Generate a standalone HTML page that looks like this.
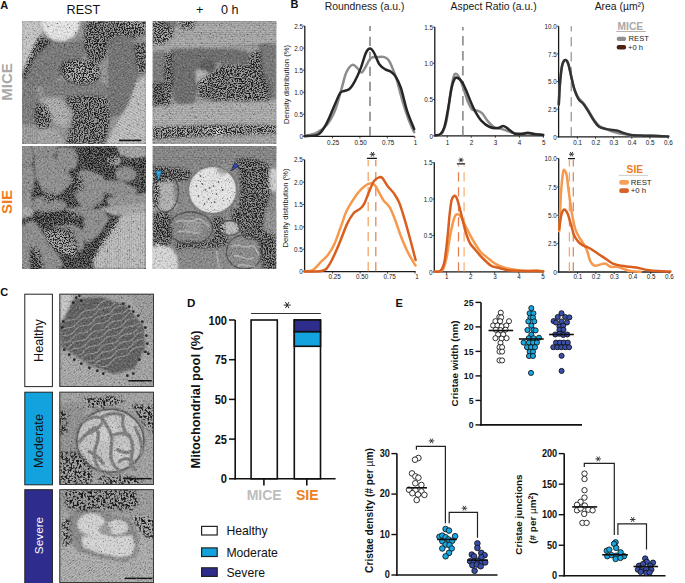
<!DOCTYPE html>
<html><head><meta charset="utf-8"><style>
html,body{margin:0;padding:0;background:#fff;}
svg{display:block;}
text{font-family:"Liberation Sans",sans-serif;}
</style></head><body>
<svg width="685" height="583" viewBox="0 0 685 583">
<text x="0.30" y="8.80" font-size="11.00" font-weight="bold" fill="#111">A</text>
<text x="290.50" y="7.70" font-size="11.00" font-weight="bold" fill="#111">B</text>
<text x="0.30" y="296.00" font-size="11.00" font-weight="bold" fill="#111">C</text>
<text x="187.00" y="307.20" font-size="11.60" font-weight="bold" fill="#111">D</text>
<text x="395.40" y="307.20" font-size="11.00" font-weight="bold" fill="#111">E</text>
<text x="83.40" y="14.00" font-size="12.60" text-anchor="middle" fill="#111">REST</text>
<text x="195.90" y="14.00" font-size="12.60" fill="#111">+</text>
<text x="221.00" y="14.00" font-size="12.60" fill="#111">0 h</text>
<text x="12.00" y="82.00" font-size="15.00" text-anchor="middle" font-weight="bold" fill="#a9a9a9" transform="rotate(-90 12.00 82.00)">MICE</text>
<text x="12.00" y="202.00" font-size="15.00" text-anchor="middle" font-weight="bold" fill="#f07d22" transform="rotate(-90 12.00 202.00)">SIE</text>

<defs>
<filter id="soft" x="-5%" y="-5%" width="110%" height="110%"><feGaussianBlur stdDeviation="1.3"/></filter>
<filter id="soft2" x="-10%" y="-10%" width="120%" height="120%"><feGaussianBlur stdDeviation="2.2"/></filter>
<filter id="grain" x="0" y="0" width="100%" height="100%" color-interpolation-filters="sRGB">
 <feTurbulence type="fractalNoise" baseFrequency="0.55" numOctaves="2" seed="7" result="n"/>
 <feColorMatrix in="n" type="matrix" values="0 0 0 0 1  0 0 0 0 1  0 0 0 0 1  2.2 0 0 0 -1.1" result="w"/>
 <feColorMatrix in="n" type="matrix" values="0 0 0 0 0  0 0 0 0 0  0 0 0 0 0  -2.2 0 0 0 1.1" result="b"/>
 <feMerge><feMergeNode in="w"/><feMergeNode in="b"/></feMerge>
</filter>
<pattern id="strA" width="2.2" height="2.2" patternUnits="userSpaceOnUse" patternTransform="rotate(-35)"><rect width="2.2" height="0.9" fill="#000" opacity="0.14"/></pattern>
<pattern id="strB" width="2.2" height="2.2" patternUnits="userSpaceOnUse" patternTransform="rotate(0)"><rect width="2.2" height="0.9" fill="#000" opacity="0.13"/></pattern>
<pattern id="strC" width="2.2" height="2.2" patternUnits="userSpaceOnUse" patternTransform="rotate(90)"><rect width="2.2" height="0.9" fill="#000" opacity="0.13"/></pattern>
<pattern id="strD" width="2.4" height="2.4" patternUnits="userSpaceOnUse" patternTransform="rotate(30)"><rect width="2.4" height="0.9" fill="#000" opacity="0.14"/></pattern>
<filter id="spkA" x="-10%" y="-10%" width="120%" height="120%" color-interpolation-filters="sRGB"><feGaussianBlur in="SourceAlpha" stdDeviation="1.6" result="m"/><feTurbulence type="fractalNoise" baseFrequency="0.8" numOctaves="2" seed="3" result="n"/><feColorMatrix in="n" type="matrix" values="0 0 0 0 0.1  0 0 0 0 0.1  0 0 0 0 0.1  -6 0 0 0 3.4" result="d"/><feColorMatrix in="n" type="matrix" values="0 0 0 0 0.72  0 0 0 0 0.72  0 0 0 0 0.72  1.2000000000000002 0 0 0 -0.6960000000000001" result="l"/><feMerge result="dl"><feMergeNode in="l"/><feMergeNode in="d"/></feMerge><feGaussianBlur in="dl" stdDeviation="0.45" result="d2"/><feComposite in="d2" in2="m" operator="in"/></filter>
<filter id="spkB" x="-10%" y="-10%" width="120%" height="120%" color-interpolation-filters="sRGB"><feGaussianBlur in="SourceAlpha" stdDeviation="1.6" result="m"/><feTurbulence type="fractalNoise" baseFrequency="0.8" numOctaves="2" seed="11" result="n"/><feColorMatrix in="n" type="matrix" values="0 0 0 0 0.1  0 0 0 0 0.1  0 0 0 0 0.1  -6 0 0 0 3.4" result="d"/><feColorMatrix in="n" type="matrix" values="0 0 0 0 0.72  0 0 0 0 0.72  0 0 0 0 0.72  1.2000000000000002 0 0 0 -0.6960000000000001" result="l"/><feMerge result="dl"><feMergeNode in="l"/><feMergeNode in="d"/></feMerge><feGaussianBlur in="dl" stdDeviation="0.45" result="d2"/><feComposite in="d2" in2="m" operator="in"/></filter>
<filter id="spkC" x="-10%" y="-10%" width="120%" height="120%" color-interpolation-filters="sRGB"><feGaussianBlur in="SourceAlpha" stdDeviation="1.6" result="m"/><feTurbulence type="fractalNoise" baseFrequency="0.8" numOctaves="2" seed="21" result="n"/><feColorMatrix in="n" type="matrix" values="0 0 0 0 0.1  0 0 0 0 0.1  0 0 0 0 0.1  -6 0 0 0 3.3" result="d"/><feColorMatrix in="n" type="matrix" values="0 0 0 0 0.72  0 0 0 0 0.72  0 0 0 0 0.72  1.2000000000000002 0 0 0 -0.6960000000000001" result="l"/><feMerge result="dl"><feMergeNode in="l"/><feMergeNode in="d"/></feMerge><feGaussianBlur in="dl" stdDeviation="0.45" result="d2"/><feComposite in="d2" in2="m" operator="in"/></filter>
<filter id="spkD" x="-10%" y="-10%" width="120%" height="120%" color-interpolation-filters="sRGB"><feGaussianBlur in="SourceAlpha" stdDeviation="1.6" result="m"/><feTurbulence type="fractalNoise" baseFrequency="0.8" numOctaves="2" seed="31" result="n"/><feColorMatrix in="n" type="matrix" values="0 0 0 0 0.1  0 0 0 0 0.1  0 0 0 0 0.1  -6 0 0 0 3.4" result="d"/><feColorMatrix in="n" type="matrix" values="0 0 0 0 0.72  0 0 0 0 0.72  0 0 0 0 0.72  1.2000000000000002 0 0 0 -0.6960000000000001" result="l"/><feMerge result="dl"><feMergeNode in="l"/><feMergeNode in="d"/></feMerge><feGaussianBlur in="dl" stdDeviation="0.45" result="d2"/><feComposite in="d2" in2="m" operator="in"/></filter>
<filter id="spkL" x="-10%" y="-10%" width="120%" height="120%" color-interpolation-filters="sRGB"><feGaussianBlur in="SourceAlpha" stdDeviation="1.6" result="m"/><feTurbulence type="fractalNoise" baseFrequency="0.45" numOctaves="2" seed="41" result="n"/><feColorMatrix in="n" type="matrix" values="0 0 0 0 0.1  0 0 0 0 0.1  0 0 0 0 0.1  -6 0 0 0 3.25" result="d"/><feColorMatrix in="n" type="matrix" values="0 0 0 0 0.72  0 0 0 0 0.72  0 0 0 0 0.72  0.6000000000000001 0 0 0 -0.34800000000000003" result="l"/><feMerge result="dl"><feMergeNode in="l"/><feMergeNode in="d"/></feMerge><feGaussianBlur in="dl" stdDeviation="0.45" result="d2"/><feComposite in="d2" in2="m" operator="in"/></filter>
<filter id="spkS" x="-10%" y="-10%" width="120%" height="120%" color-interpolation-filters="sRGB"><feGaussianBlur in="SourceAlpha" stdDeviation="1.6" result="m"/><feTurbulence type="fractalNoise" baseFrequency="0.9" numOctaves="2" seed="57" result="n"/><feColorMatrix in="n" type="matrix" values="0 0 0 0 0.1  0 0 0 0 0.1  0 0 0 0 0.1  -7 0 0 0 2.2" result="d"/><feColorMatrix in="n" type="matrix" values="0 0 0 0 0.72  0 0 0 0 0.72  0 0 0 0 0.72  0.0 0 0 0 -0.0" result="l"/><feMerge result="dl"><feMergeNode in="l"/><feMergeNode in="d"/></feMerge><feGaussianBlur in="dl" stdDeviation="0.45" result="d2"/><feComposite in="d2" in2="m" operator="in"/></filter>
</defs>
<svg x="22.0" y="21.0" width="124.0" height="123.0" viewBox="0 0 124.0 123.0" overflow="hidden">
<rect width="124.0" height="123.0" fill="#949494"/>
<g filter="url(#soft)">
<path d="M0.0,0.0 L22.0,0.0 L19.0,14.0 L12.0,30.0 L4.0,46.0 L0.0,50.0 Z" fill="#c4c4c4"/>
<path d="M16.0,18.0 L40.0,21.0 L62.0,19.0 L64.0,30.0 L58.0,38.0 L50.0,44.0 L40.0,52.0 L34.0,60.0 L26.0,64.0 L12.0,66.0 L6.0,58.0 L4.0,48.0 L10.0,34.0 Z" fill="#7a7a7a"/>
<path d="M0.0,50.0 L6.0,56.0 L12.0,66.0 L18.0,76.0 L17.0,123.0 L0.0,123.0 Z" fill="#848484"/>
<path d="M20.0,62.0 L40.0,60.0 L60.0,62.0 L80.0,62.0 L90.0,66.0 L88.0,76.0 L60.0,74.0 L40.0,76.0 L22.0,76.0 Z" fill="#7e7e7e"/>
<path d="M42.0,44.0 L56.0,40.0 L70.0,44.0 L76.0,52.0 L72.0,60.0 L58.0,62.0 L46.0,58.0 Z" fill="#b4b4b4"/>
<path d="M20.0,78.0 L34.0,76.0 L48.0,88.0 L50.0,104.0 L40.0,106.0 L28.0,98.0 L20.0,88.0 Z" fill="#b6b6b6"/>
<path d="M0.0,104.0 L18.0,104.0 L36.0,110.0 L44.0,123.0 L0.0,123.0 Z" fill="#a4a4a4"/>
<path d="M88.0,18.0 L100.0,14.0 L112.0,20.0 L116.0,40.0 L114.0,62.0 L108.0,80.0 L100.0,94.0 L88.0,96.0 L86.0,70.0 L86.0,40.0 Z" fill="#7c7c7c"/>
<path d="M114.0,62.0 L124.0,54.0 L124.0,123.0 L84.0,123.0 L96.0,100.0 L106.0,84.0 Z" fill="#c6c6c6"/>
<ellipse cx="38.7" cy="3.0" rx="18.7" ry="17.0" fill="#e4e4e4"/>
<path d="M100.0,0.0 L124.0,0.0 L124.0,8.0 L104.0,8.0 Z" fill="#b0b0b0"/>
</g>
<g>
<path d="M0.0,52.0 L16.0,66.0 L16.0,123.0 L0.0,123.0 Z" fill="url(#strC)"/>
<path d="M20.0,78.0 L34.0,76.0 L48.0,88.0 L50.0,104.0 L40.0,106.0 L28.0,98.0 L20.0,88.0 Z" fill="url(#strA)"/>
<path d="M114.0,62.0 L124.0,54.0 L124.0,123.0 L84.0,123.0 L96.0,100.0 L106.0,84.0 Z" fill="url(#strD)"/>
<path d="M88.0,18.0 L100.0,14.0 L112.0,20.0 L116.0,40.0 L114.0,62.0 L108.0,80.0 L100.0,94.0 L88.0,96.0 L86.0,70.0 L86.0,40.0 Z" fill="url(#strA)"/>
</g>
<g filter="url(#spkA)">
<path d="M17.0,15.0 L30.0,20.0 L24.0,26.0 L14.0,34.0 L8.0,48.0 L4.0,58.0 L0.0,56.0 L4.0,44.0 L10.0,28.0 Z" fill="#000"/>
<path d="M64.0,0.0 L124.0,0.0 L124.0,12.0 L112.0,18.0 L100.0,14.0 L88.0,18.0 L84.0,34.0 L80.0,42.0 L70.0,42.0 L62.0,30.0 L62.0,14.0 Z" fill="#000"/>
<path d="M112.0,22.0 L124.0,22.0 L124.0,50.0 L116.0,54.0 Z" fill="#000"/>
<path d="M38.0,44.0 L44.0,40.0 L56.0,38.0 L72.0,40.0 L78.0,48.0 L78.0,58.0 L72.0,62.0 L58.0,64.0 L44.0,60.0 L38.0,52.0 Z" fill="#000"/>
<path d="M42.0,76.0 L60.0,74.0 L86.0,76.0 L88.0,96.0 L86.0,110.0 L82.0,123.0 L44.0,123.0 L48.0,106.0 L52.0,92.0 Z" fill="#000"/>
<path d="M14.0,82.0 L24.0,84.0 L30.0,96.0 L28.0,106.0 L16.0,108.0 L12.0,96.0 Z" fill="#000"/>
</g>
<rect width="124.0" height="123.0" fill="#000" filter="url(#spkS)" opacity="0.55"/>
<rect x="97" y="118.6" width="22.4" height="1.6" fill="#111"/>
<rect width="124.0" height="123.0" filter="url(#grain)" opacity="0.30"/>
</svg>
<svg x="152.5" y="21.0" width="124.0" height="123.0" viewBox="0 0 124.0 123.0" overflow="hidden">
<rect width="124.0" height="123.0" fill="#9a9a9a"/>
<g filter="url(#soft)">
<path d="M0.0,0.0 L124.0,0.0 L124.0,25.0 L100.0,24.0 L60.0,27.0 L20.0,28.0 L0.0,30.0 Z" fill="#afafaf"/>
<path d="M9.0,0.0 L24.0,0.0 L24.0,6.0 L10.0,6.0 Z" fill="#7c7c7c"/>
<path d="M0.0,30.0 L12.0,30.0 L14.0,50.0 L14.0,63.0 L10.0,90.0 L0.0,92.0 Z" fill="#7c7c7c"/>
<path d="M19.0,28.0 L50.0,27.0 L80.0,28.0 L94.0,30.0 L97.0,36.0 L94.0,43.0 L70.0,43.0 L50.0,40.0 L44.0,52.0 L44.0,70.0 L42.0,84.0 L28.0,86.0 L22.0,80.0 L18.0,60.0 L18.0,40.0 Z" fill="#6e6e6e"/>
<ellipse cx="55.0" cy="45.0" rx="8.5" ry="6.5" fill="#5e5e5e"/>
<path d="M43.0,49.0 L54.0,50.0 L54.0,63.0 L44.0,63.0 Z" fill="#b4b4b4"/>
<path d="M106.0,23.0 L116.0,22.0 L124.0,24.0 L124.0,78.0 L116.0,76.0 L108.0,56.0 L106.0,40.0 Z" fill="#787878"/>
<path d="M0.0,84.0 L124.0,80.0 L124.0,106.0 L0.0,106.0 Z" fill="#b4b4b4"/>
<path d="M0.0,106.0 L124.0,106.0 L124.0,123.0 L0.0,123.0 Z" fill="#acacac"/>
<ellipse cx="65.5" cy="111.5" rx="5.0" ry="4.5" fill="#dadada"/>
<ellipse cx="58.0" cy="110.0" rx="4.0" ry="4.0" fill="#c8c8c8"/>
</g>
<g>
<path d="M0.0,0.0 L124.0,0.0 L124.0,25.0 L0.0,30.0 Z" fill="url(#strB)"/>
<path d="M0.0,84.0 L124.0,80.0 L124.0,106.0 L0.0,106.0 Z" fill="url(#strB)"/>
<path d="M0.0,114.0 L124.0,114.0 L124.0,123.0 L0.0,123.0 Z" fill="url(#strB)"/>
</g>
<g filter="url(#spkB)">
<path d="M0.0,0.0 L10.0,0.0 L22.0,8.0 L20.0,16.0 L12.0,22.0 L0.0,24.0 Z" fill="#000"/>
<path d="M26.0,0.0 L44.0,0.0 L40.0,8.0 L28.0,8.0 Z" fill="#000"/>
<path d="M12.0,32.0 L20.0,32.0 L20.0,60.0 L18.0,84.0 L12.0,86.0 L12.0,60.0 Z" fill="#000"/>
<path d="M0.0,62.0 L12.0,62.0 L14.0,82.0 L0.0,86.0 Z" fill="#000"/>
<path d="M44.0,62.0 L70.0,44.0 L94.0,44.0 L98.0,32.0 L108.0,30.0 L110.0,50.0 L116.0,62.0 L118.0,80.0 L100.0,80.0 L80.0,80.0 L62.0,80.0 L46.0,76.0 Z" fill="#000"/>
<path d="M0.0,106.0 L56.0,104.0 L124.0,104.0 L124.0,113.0 L80.0,114.0 L40.0,116.0 L0.0,118.0 Z" fill="#000"/>
</g>
<rect width="124.0" height="123.0" fill="#000" filter="url(#spkS)" opacity="0.55"/>

<rect width="124.0" height="123.0" filter="url(#grain)" opacity="0.30"/>
</svg>
<svg x="22.0" y="146.0" width="124.0" height="123.0" viewBox="0 0 124.0 123.0" overflow="hidden">
<rect width="124.0" height="123.0" fill="#626262"/>
<g filter="url(#spkC)">
<path d="M0.0,0.0 L124.0,0.0 L124.0,123.0 L0.0,123.0 Z" fill="#000"/>
</g>
<g filter="url(#soft)">
<path d="M0.0,0.0 L8.0,0.0 L10.0,10.0 L9.0,18.0 L0.0,19.0 Z" fill="#8e8e8e" stroke="#8e8e8e" stroke-width="2.4" stroke-linejoin="round"/>
<path d="M0.0,22.0 L10.0,21.0 L12.0,32.0 L10.0,44.0 L0.0,46.0 Z" fill="#8e8e8e" stroke="#8e8e8e" stroke-width="2.4" stroke-linejoin="round"/>
<path d="M0.0,49.0 L8.0,47.0 L9.0,58.0 L6.0,70.0 L0.0,72.0 Z" fill="#949494" stroke="#949494" stroke-width="2.4" stroke-linejoin="round"/>
<path d="M11.0,0.0 L34.0,0.0 L32.0,8.0 L13.0,10.0 Z" fill="#8e8e8e" stroke="#8e8e8e" stroke-width="2.4" stroke-linejoin="round"/>
<path d="M36.0,2.0 L51.0,3.0 L55.0,12.0 L53.0,21.0 L46.0,24.0 L36.0,15.0 Z" fill="#8e8e8e" stroke="#8e8e8e" stroke-width="2.4" stroke-linejoin="round"/>
<path d="M13.0,13.0 L31.0,11.0 L35.0,17.0 L48.0,30.0 L50.0,35.0 L44.0,41.0 L36.0,48.0 L28.0,50.0 L22.0,45.0 L15.0,31.0 Z" fill="#909090" stroke="#909090" stroke-width="2.4" stroke-linejoin="round"/>
<path d="M12.0,54.0 L22.0,51.0 L34.0,54.0 L44.0,58.0 L40.0,64.0 L20.0,66.0 L12.0,62.0 Z" fill="#8e8e8e" stroke="#8e8e8e" stroke-width="2.4" stroke-linejoin="round"/>
<ellipse cx="92.0" cy="15.0" rx="7.0" ry="5.0" fill="#a2a2a2"/>
<ellipse cx="104.0" cy="28.0" rx="11.0" ry="7.5" fill="#8e8e8e"/>
<path d="M94.0,0.0 L124.0,0.0 L124.0,11.0 L110.0,13.0 L98.0,9.0 Z" fill="#a4a4a4"/>
<path d="M58.0,26.0 L68.0,25.0 L80.0,31.0 L83.0,42.0 L79.0,55.0 L70.0,61.0 L60.0,60.0 L54.0,50.0 L56.0,36.0 Z" fill="#8e8e8e" stroke="#8e8e8e" stroke-width="2.4" stroke-linejoin="round"/>
<path d="M82.0,35.0 L98.0,36.0 L114.0,43.0 L112.0,50.0 L96.0,50.0 L84.0,46.0 Z" fill="#8e8e8e" stroke="#8e8e8e" stroke-width="2.4" stroke-linejoin="round"/>
<path d="M86.0,53.0 L108.0,51.0 L124.0,48.0 L124.0,61.0 L90.0,63.0 Z" fill="#949494" stroke="#949494" stroke-width="2.4" stroke-linejoin="round"/>
<ellipse cx="6.0" cy="66.0" rx="7.0" ry="5.0" fill="#a8a8a8"/>
<path d="M4.0,78.0 L12.0,76.0 L22.0,90.0 L34.0,106.0 L40.0,118.0 L34.0,123.0 L20.0,123.0 L12.0,104.0 L6.0,90.0 Z" fill="#8e8e8e" stroke="#8e8e8e" stroke-width="2.4" stroke-linejoin="round"/>
<path d="M32.0,81.0 L50.0,79.0 L61.0,86.0 L61.0,102.0 L52.0,106.0 L40.0,96.0 Z" fill="#8e8e8e" stroke="#8e8e8e" stroke-width="2.4" stroke-linejoin="round"/>
<path d="M0.0,80.0 L4.0,82.0 L8.0,100.0 L8.0,123.0 L0.0,123.0 Z" fill="#8e8e8e" stroke="#8e8e8e" stroke-width="2.4" stroke-linejoin="round"/>
<path d="M44.0,63.0 L62.0,62.0 L62.0,69.0 L48.0,70.0 Z" fill="#8e8e8e" stroke="#8e8e8e" stroke-width="2.4" stroke-linejoin="round"/>
<path d="M64.0,63.0 L80.0,65.0 L86.0,72.0 L78.0,86.0 L66.0,96.0 L62.0,90.0 Z" fill="#8e8e8e" stroke="#8e8e8e" stroke-width="2.4" stroke-linejoin="round"/>
<path d="M76.0,62.0 L124.0,57.0 L124.0,66.0 L92.0,70.0 Z" fill="#a6a6a6"/>
<path d="M72.0,123.0 L70.0,112.0 L80.0,96.0 L92.0,78.0 L100.0,69.0 L124.0,65.0 L124.0,123.0 Z" fill="#c2c2c2"/>
<path d="M22.0,84.0 L40.0,86.0 L54.0,100.0 L54.0,110.0 L40.0,108.0 L26.0,96.0 Z" fill="#b0b0b0"/>
</g>
<g>
<path d="M72.0,123.0 L70.0,112.0 L80.0,96.0 L92.0,78.0 L100.0,69.0 L124.0,65.0 L124.0,123.0 Z" fill="url(#strC)"/>
</g>
<g filter="url(#spkC)">
<path d="M62.0,2.0 L92.0,2.0 L96.0,10.0 L90.0,24.0 L80.0,28.0 L66.0,24.0 L60.0,12.0 Z" fill="#000"/>
<path d="M106.0,13.0 L124.0,12.0 L124.0,24.0 L110.0,24.0 Z" fill="#000"/>
<path d="M49.0,30.0 L60.0,30.0 L62.0,44.0 L52.0,46.0 Z" fill="#000"/>
<path d="M22.0,46.0 L34.0,48.0 L32.0,56.0 L22.0,56.0 Z" fill="#000"/>
<path d="M10.0,66.0 L30.0,66.0 L48.0,64.0 L60.0,70.0 L50.0,78.0 L30.0,80.0 L12.0,76.0 Z" fill="#000"/>
<path d="M20.0,82.0 L50.0,82.0 L56.0,100.0 L56.0,112.0 L40.0,112.0 L26.0,98.0 Z" fill="#000"/>
<path d="M62.0,112.0 L70.0,100.0 L82.0,88.0 L94.0,72.0 L98.0,74.0 L86.0,92.0 L76.0,106.0 L70.0,118.0 Z" fill="#000"/>
<path d="M8.0,100.0 L18.0,104.0 L22.0,123.0 L8.0,123.0 Z" fill="#000"/>
</g>
<rect width="124.0" height="123.0" fill="#000" filter="url(#spkS)" opacity="0.55"/>

<rect width="124.0" height="123.0" filter="url(#grain)" opacity="0.30"/>
</svg>
<svg x="152.5" y="146.0" width="124.0" height="123.0" viewBox="0 0 124.0 123.0" overflow="hidden">
<rect width="124.0" height="123.0" fill="#8a8a8a"/>
<g filter="url(#soft)">
<path d="M0.0,0.0 L124.0,0.0 L124.0,20.0 L0.0,22.0 Z" fill="#8e8e8e"/>
<path d="M0.0,36.0 L20.0,34.0 L26.0,44.0 L24.0,62.0 L14.0,66.0 L0.0,64.0 Z" fill="#b0b0b0"/>
<path d="M20.0,28.0 L34.0,28.0 L40.0,40.0 L38.0,62.0 L30.0,64.0 L22.0,56.0 Z" fill="#8a8a8a"/>
<path d="M18.0,66.0 L40.0,64.0 L56.0,68.0 L62.0,78.0 L58.0,92.0 L44.0,98.0 L26.0,98.0 L18.0,88.0 Z" fill="#878787"/>
<ellipse cx="40.0" cy="80.0" rx="10.0" ry="7.0" fill="#989898"/>
<ellipse cx="77.0" cy="82.0" rx="10.0" ry="7.0" fill="#bcbcbc"/>
<path d="M74.0,90.0 L96.0,85.0 L108.0,96.0 L110.0,118.0 L96.0,123.0 L76.0,123.0 L72.0,104.0 Z" fill="#8c8c8c"/>
<path d="M28.0,100.0 L50.0,98.0 L66.0,104.0 L70.0,123.0 L26.0,123.0 Z" fill="#8a8a8a"/>
<path d="M60.0,98.0 L74.0,98.0 L76.0,123.0 L60.0,123.0 Z" fill="#8a8a8a"/>
<ellipse cx="60.0" cy="44.0" rx="27.0" ry="26.0" fill="#8c8c8c"/>
<ellipse cx="60.0" cy="44.0" rx="24.0" ry="23.5" fill="#e4e4e4"/>
<ellipse cx="70.0" cy="24.0" rx="6.0" ry="4.5" fill="#a8a8a8"/>
<ellipse cx="5.0" cy="118.0" rx="20.5" ry="20.5" fill="#d6d6d6"/>
<ellipse cx="121.0" cy="34.0" rx="6.0" ry="12.0" fill="#cfcfcf"/>
<path d="M113.0,66.0 L124.0,64.0 L124.0,90.0 L114.0,88.0 Z" fill="#929292"/>
</g>
<g>
<path d="M0.0,0.0 L124.0,0.0 L124.0,20.0 L0.0,22.0 Z" fill="url(#strB)"/>
</g>
<g filter="url(#spkD)">
<path d="M0.0,20.0 L30.0,22.0 L40.0,26.0 L36.0,34.0 L20.0,36.0 L0.0,36.0 Z" fill="#000"/>
<path d="M84.0,12.0 L100.0,12.0 L116.0,18.0 L118.0,50.0 L112.0,66.0 L110.0,86.0 L100.0,84.0 L88.0,80.0 L86.0,60.0 L88.0,40.0 Z" fill="#000"/>
<path d="M104.0,82.0 L124.0,90.0 L124.0,123.0 L110.0,123.0 Z" fill="#000"/>
<path d="M0.0,66.0 L18.0,66.0 L20.0,90.0 L16.0,100.0 L0.0,100.0 Z" fill="#000"/>
<path d="M56.0,92.0 L76.0,90.0 L74.0,100.0 L60.0,102.0 Z" fill="#000"/>
<path d="M22.0,96.0 L60.0,96.0 L60.0,102.0 L24.0,102.0 Z" fill="#000"/>
<path d="M78.0,62.0 L98.0,66.0 L104.0,78.0 L90.0,86.0 L80.0,74.0 Z" fill="#000"/>
<path d="M60.0,70.0 L72.0,70.0 L72.0,92.0 L62.0,94.0 Z" fill="#000"/>
<path d="M86.0,84.0 L112.0,86.0 L112.0,96.0 L92.0,92.0 Z" fill="#000"/>
<path d="M26.0,96.0 L36.0,94.0 L30.0,104.0 L24.0,104.0 Z" fill="#000"/>
<path d="M0.0,36.0 L8.0,36.0 L6.0,62.0 L0.0,62.0 Z" fill="#000"/>
</g>
<rect width="124.0" height="123.0" fill="#000" filter="url(#spkS)" opacity="0.55"/>
<ellipse cx="60" cy="44" rx="24.8" ry="24.3" fill="none" stroke="#7c7c7c" stroke-width="2.6" opacity="0.9"/><g fill="none" stroke="#4a4a4a" stroke-width="1.4" opacity="0.8"><ellipse cx="38" cy="82" rx="22" ry="16"/><ellipse cx="77" cy="82" rx="10.5" ry="7.5"/><ellipse cx="92" cy="106" rx="18" ry="17"/><ellipse cx="13" cy="46" rx="13" ry="20"/></g><g fill="none" stroke="#b4b4b4" stroke-width="1.8" stroke-linecap="round" opacity="0.85"><path d="M24,76 C30,72 36,78 42,74 C48,70 52,78 56,80"/><path d="M26,86 C32,82 40,90 48,86"/><path d="M80,100 C86,96 92,104 98,100 C102,98 104,104 106,108"/><path d="M82,110 C88,108 92,116 100,112"/><path d="M86,120 C90,116 96,122 102,120"/><path d="M6,36 C10,40 8,48 14,52"/><path d="M16,34 C18,42 16,50 20,58"/><path d="M64,106 C66,112 64,118 68,122"/></g><path d="M2.8,24.8 L9.4,24.8 L6.3,35.3 Z" fill="#27a6df" stroke="#102a40" stroke-width="0.7"/><path d="M78.8,24.6 L82.4,16.4 L86.4,20.2 Z" fill="#3346b0" stroke="#101830" stroke-width="0.7"/><g fill="#333"><circle cx="50.0" cy="38.0" r="0.8"/><circle cx="53.0" cy="44.0" r="0.8"/><circle cx="57.0" cy="42.0" r="0.8"/><circle cx="61.0" cy="40.0" r="0.8"/><circle cx="48.0" cy="30.0" r="0.8"/><circle cx="64.0" cy="48.0" r="0.8"/><circle cx="56.0" cy="53.0" r="0.8"/><circle cx="46.0" cy="50.0" r="0.8"/><circle cx="66.0" cy="36.0" r="0.8"/><circle cx="70.0" cy="44.0" r="0.8"/><circle cx="52.0" cy="58.0" r="0.8"/><circle cx="62.0" cy="56.0" r="0.8"/><circle cx="44.0" cy="40.0" r="0.8"/></g>
<rect width="124.0" height="123.0" filter="url(#grain)" opacity="0.30"/>
</svg>
<svg x="59.3" y="293.7" width="94.7" height="93.3" viewBox="0 0 94.7 93.3" overflow="hidden">
<rect width="94.7" height="93.3" fill="#a4a4a4"/>
<g filter="url(#soft)">
<path d="M0.0,0.0 L94.7,0.0 L94.7,93.3 L0.0,93.3 Z" fill="#a4a4a4"/>
<path d="M0.0,0.0 L14.0,0.0 L8.0,18.0 L0.0,30.0 Z" fill="#c6c6c6"/>
<path d="M0.0,60.0 L30.0,74.0 L56.0,84.0 L70.0,93.3 L0.0,93.3 Z" fill="#b2b2b2"/>
<path d="M15.5,6.7 L40.7,4.5 L66.0,12.4 L82.7,33.3 L84.4,53.8 L74.3,73.9 L54.2,79.0 L29.0,68.9 L3.7,52.1 L2.0,32.0 Z" fill="#626262" stroke="#626262" stroke-width="3" stroke-linejoin="round"/>
</g>
<g>
<path d="M0.0,60.0 L30.0,74.0 L56.0,84.0 L70.0,93.3 L0.0,93.3 Z" fill="url(#strA)"/>
<path d="M70.0,0.0 L94.7,0.0 L94.7,30.0 L86.0,30.0 Z" fill="url(#strA)"/>
</g>
<rect width="94.7" height="93.3" fill="#000" filter="url(#spkS)" opacity="0.55"/>
<defs><clipPath id="c1clip"><path d="M15.5,6.7 L40.7,4.5 L66.0,12.4 L82.7,33.3 L84.4,53.8 L74.3,73.9 L54.2,79.0 L29.0,68.9 L3.7,52.1 L2.0,32.0 Z"/></clipPath></defs><g clip-path="url(#c1clip)" opacity="0.85"><polyline points="-13.1,37.8 -9.4,36.4 -5.0,36.0 -1.2,34.7 1.8,31.8 4.6,28.5 8.2,26.7 12.5,26.3 16.5,25.3 19.6,22.7 22.4,19.4 25.7,17.2 29.9,16.5 34.1,15.9 37.5,13.7 40.2,10.3 43.3,7.7 47.4,6.8 51.7,6.3 55.2,4.5 58.0,1.3 61.0,-1.7 64.9,-3.0 69.2,-3.4 73.0,-4.7" fill="none" stroke="#989898" stroke-width="1.25"/><polyline points="-9.9,43.8 -5.7,43.3 -2.2,41.3 0.5,37.9 3.6,35.2 7.5,34.1 11.9,33.7 15.5,32.1 18.4,28.9 21.3,25.8 25.0,24.4 29.4,24.0 33.2,22.8 36.2,19.9 39.0,16.6 42.6,14.7 46.8,14.2 50.9,13.4 54.1,10.9 56.8,7.5 60.1,5.2 64.3,4.5 68.5,3.9 71.9,1.8 74.7,-1.6" fill="none" stroke="#989898" stroke-width="1.25"/><polyline points="-6.5,50.3 -3.4,47.5 -0.7,44.2 2.8,42.1 7.0,41.5 11.1,40.8 14.4,38.5 17.2,35.1 20.4,32.6 24.4,31.8 28.7,31.3 32.2,29.3 35.0,26.1 38.0,23.2 41.9,22.0 46.2,21.6 50.0,20.1 52.9,17.0 55.7,13.9 59.4,12.3 63.7,11.9 67.7,10.8 70.7,8.0 73.5,4.7 76.9,2.7" fill="none" stroke="#989898" stroke-width="1.25"/><polyline points="-4.7,53.7 -1.7,50.7 2.1,49.4 6.4,49.0 10.2,47.7 13.2,44.7 16.0,41.5 19.6,39.7 23.9,39.2 27.9,38.3 31.0,35.7 33.8,32.3 37.2,30.1 41.3,29.5 45.5,28.8 48.9,26.6 51.6,23.2 54.8,20.6 58.8,19.7 63.1,19.3 66.7,17.4 69.5,14.2 72.4,11.3 76.3,10.0 80.6,9.6" fill="none" stroke="#989898" stroke-width="1.25"/><polyline points="-2.6,57.5 1.5,56.8 5.7,56.2 9.2,54.2 11.9,50.9 15.0,48.1 19.0,47.0 23.3,46.6 26.9,45.0 29.8,41.8 32.7,38.8 36.5,37.3 40.8,36.9 44.7,35.7 47.7,32.8 50.4,29.6 54.0,27.7 58.3,27.2 62.3,26.3 65.5,23.8 68.2,20.4 71.5,18.1 75.7,17.4 79.9,16.8 83.3,14.7" fill="none" stroke="#989898" stroke-width="1.25"/><polyline points="0.9,64.3 4.9,63.2 8.0,60.5 10.7,57.1 14.2,55.1 18.4,54.5 22.5,53.8 25.8,51.4 28.6,48.0 31.8,45.6 35.9,44.7 40.1,44.2 43.6,42.3 46.4,39.0 49.4,36.2 53.3,35.0 57.7,34.6 61.4,33.1 64.3,30.0 67.1,26.9 70.8,25.3 75.2,24.9 79.1,23.8 82.1,21.0 84.9,17.7" fill="none" stroke="#989898" stroke-width="1.25"/><polyline points="3.9,69.9 6.7,66.6 9.7,63.7 13.5,62.3 17.8,61.9 21.7,60.6 24.6,57.6 27.4,54.4 31.0,52.7 35.3,52.2 39.3,51.3 42.4,48.6 45.2,45.3 48.6,43.1 52.8,42.5 57.0,41.8 60.3,39.5 63.0,36.2 66.2,33.6 70.2,32.7 74.5,32.2 78.1,30.4 80.9,27.1 83.8,24.2 87.7,23.0" fill="none" stroke="#989898" stroke-width="1.25"/><polyline points="5.5,72.9 8.8,70.5 12.9,69.8 17.2,69.2 20.6,67.1 23.3,63.8 26.4,61.1 30.4,60.0 34.7,59.6 38.4,58.0 41.2,54.8 44.1,51.7 47.9,50.3 52.2,49.9 56.1,48.7 59.1,45.8 61.9,42.5 65.4,40.7 69.7,40.2 73.7,39.3 76.9,36.7 79.6,33.4 83.0,31.1 87.1,30.4 91.3,29.8" fill="none" stroke="#989898" stroke-width="1.25"/><polyline points="8.1,77.7 12.4,77.2 16.3,76.2 19.4,73.4 22.2,70.1 25.6,68.0 29.8,67.5 34.0,66.7 37.2,64.4 40.0,61.0 43.2,58.5 47.3,57.7 51.6,57.2 55.0,55.2 57.8,51.9 60.8,49.1 64.8,48.0 69.1,47.6 72.8,46.0 75.7,42.9 78.5,39.8 82.3,38.3 86.6,37.9 90.5,36.7 93.5,33.9" fill="none" stroke="#989898" stroke-width="1.25"/><polyline points="11.7,84.6 15.3,82.8 18.1,79.6 21.1,76.6 24.9,75.3 29.3,74.9 33.1,73.6 36.0,70.6 38.8,67.4 42.4,65.6 46.7,65.2 50.7,64.2 53.9,61.5 56.6,58.2 60.0,56.0 64.2,55.4 68.4,54.8 71.7,52.5 74.4,49.1 77.6,46.6 81.7,45.7 85.9,45.2 89.5,43.3 92.3,40.1 95.3,37.2" fill="none" stroke="#989898" stroke-width="1.25"/><polyline points="14.2,89.2 16.9,85.8 20.2,83.5 24.4,82.7 28.6,82.2 32.0,80.1 34.8,76.7 37.8,74.0 41.8,73.0 46.1,72.6 49.8,70.9 52.6,67.7 55.5,64.7 59.3,63.3 63.6,62.9 67.5,61.6 70.5,58.7 73.3,55.4 76.8,53.6 81.1,53.2 85.2,52.3 88.3,49.7 91.1,46.3 94.4,44.1 98.6,43.4" fill="none" stroke="#989898" stroke-width="1.25"/></g><g fill="#262626"><circle cx="17.0" cy="4.0" r="1.4"/><circle cx="20.0" cy="2.0" r="1.4"/><circle cx="14.0" cy="9.0" r="1.4"/><circle cx="22.0" cy="7.0" r="1.4"/><circle cx="4.0" cy="28.0" r="1.4"/><circle cx="3.0" cy="34.0" r="1.4"/><circle cx="5.0" cy="56.0" r="1.4"/><circle cx="10.0" cy="61.0" r="1.4"/><circle cx="15.0" cy="66.0" r="1.4"/><circle cx="22.0" cy="70.0" r="1.4"/><circle cx="30.0" cy="74.0" r="1.4"/><circle cx="38.0" cy="77.0" r="1.4"/><circle cx="44.0" cy="80.0" r="1.4"/><circle cx="64.0" cy="10.0" r="1.4"/><circle cx="70.0" cy="13.0" r="1.4"/><circle cx="74.0" cy="18.0" r="1.4"/><circle cx="79.0" cy="22.0" r="1.4"/><circle cx="83.0" cy="28.0" r="1.4"/><circle cx="86.0" cy="34.0" r="1.4"/><circle cx="87.0" cy="42.0" r="1.4"/><circle cx="88.0" cy="50.0" r="1.4"/><circle cx="86.0" cy="58.0" r="1.4"/><circle cx="89.0" cy="60.0" r="1.4"/><circle cx="80.0" cy="66.0" r="1.4"/><circle cx="68.0" cy="82.0" r="1.4"/><circle cx="74.0" cy="80.0" r="1.4"/></g><rect x="69" y="86.3" width="23.5" height="1.5" fill="#111"/>
<rect width="94.7" height="93.3" filter="url(#grain)" opacity="0.30"/>
</svg>
<rect x="59.8" y="294.2" width="93.7" height="92.3" fill="none" stroke="#3a3a3a" stroke-width="1"/>
<svg x="59.3" y="391.7" width="94.7" height="93.3" viewBox="0 0 94.7 93.3" overflow="hidden">
<rect width="94.7" height="93.3" fill="#a2a2a2"/>
<g filter="url(#soft)">
<path d="M0.0,0.0 L94.7,0.0 L94.7,93.3 L0.0,93.3 Z" fill="#a2a2a2"/>
<path d="M0.0,12.0 L22.0,10.0 L28.0,30.0 L24.0,60.0 L16.0,70.0 L0.0,68.0 Z" fill="#929292"/>
<ellipse cx="51.0" cy="49.0" rx="35.0" ry="33.0" fill="#6e6e6e"/>
<ellipse cx="51.0" cy="49.0" rx="33.0" ry="31.0" fill="#c2c2c2"/>
<ellipse cx="46.0" cy="40.0" rx="12.0" ry="10.0" fill="#cdcdcd"/>
<ellipse cx="64.0" cy="62.0" rx="10.0" ry="9.0" fill="#cbcbcb"/>
</g>
<g filter="url(#spkL)">
<path d="M0.0,60.0 L18.0,60.0 L30.0,70.0 L34.0,86.0 L30.0,93.3 L0.0,93.3 Z" fill="#000"/>
<path d="M24.0,6.0 L56.0,4.0 L66.0,10.0 L44.0,16.0 L26.0,16.0 Z" fill="#000"/>
<path d="M72.0,12.0 L94.7,14.0 L94.7,44.0 L86.0,34.0 L78.0,24.0 Z" fill="#000"/>
<path d="M40.0,84.0 L74.0,84.0 L86.0,93.3 L40.0,93.3 Z" fill="#000"/>
<path d="M0.0,20.0 L8.0,18.0 L8.0,40.0 L0.0,44.0 Z" fill="#000"/>
</g>
<rect width="94.7" height="93.3" fill="#000" filter="url(#spkS)" opacity="0.55"/>
<ellipse cx="51" cy="49" rx="33.5" ry="31.5" fill="none" stroke="#5c5c5c" stroke-width="1.5"/><g fill="none" stroke-linecap="round" stroke-linejoin="round"><path d="M24,30 C30,26 36,24 42,26 C48,22 56,20 64,24" stroke="#8a8a8a" stroke-width="3.6"/><path d="M20,50 C26,44 30,38 36,36 C40,40 40,48 36,56 C34,64 36,72 40,78" stroke="#8a8a8a" stroke-width="3.6"/><path d="M42,26 C46,32 50,36 52,44 C54,52 50,60 52,68 C54,74 58,78 62,80" stroke="#8a8a8a" stroke-width="3.6"/><path d="M64,24 C62,32 64,40 70,44 C74,50 74,58 72,66 C70,72 72,76 76,78" stroke="#8a8a8a" stroke-width="3.6"/><path d="M52,44 C58,42 64,40 70,44" stroke="#8a8a8a" stroke-width="3.6"/><path d="M76,36 C80,44 84,52 82,62" stroke="#8a8a8a" stroke-width="3.6"/><path d="M58,58 C62,60 66,62 72,60" stroke="#8a8a8a" stroke-width="3.6"/><path d="M30,60 C36,62 40,66 44,72" stroke="#8a8a8a" stroke-width="3.6"/><path d="M44,30 C40,36 34,40 28,42" stroke="#8a8a8a" stroke-width="3.6"/><path d="M60,70 C64,66 70,66 74,70" stroke="#8a8a8a" stroke-width="3.6"/><path d="M24,30 C30,26 36,24 42,26 C48,22 56,20 64,24" stroke="#6a6a6a" stroke-width="1.0" opacity="0.7"/><path d="M20,50 C26,44 30,38 36,36 C40,40 40,48 36,56 C34,64 36,72 40,78" stroke="#6a6a6a" stroke-width="1.0" opacity="0.7"/><path d="M42,26 C46,32 50,36 52,44 C54,52 50,60 52,68 C54,74 58,78 62,80" stroke="#6a6a6a" stroke-width="1.0" opacity="0.7"/><path d="M64,24 C62,32 64,40 70,44 C74,50 74,58 72,66 C70,72 72,76 76,78" stroke="#6a6a6a" stroke-width="1.0" opacity="0.7"/><path d="M52,44 C58,42 64,40 70,44" stroke="#6a6a6a" stroke-width="1.0" opacity="0.7"/><path d="M76,36 C80,44 84,52 82,62" stroke="#6a6a6a" stroke-width="1.0" opacity="0.7"/><path d="M58,58 C62,60 66,62 72,60" stroke="#6a6a6a" stroke-width="1.0" opacity="0.7"/><path d="M30,60 C36,62 40,66 44,72" stroke="#6a6a6a" stroke-width="1.0" opacity="0.7"/><path d="M44,30 C40,36 34,40 28,42" stroke="#6a6a6a" stroke-width="1.0" opacity="0.7"/><path d="M60,70 C64,66 70,66 74,70" stroke="#6a6a6a" stroke-width="1.0" opacity="0.7"/></g><rect x="64.7" y="86.2" width="27.7" height="1.5" fill="#111"/>
<rect width="94.7" height="93.3" filter="url(#grain)" opacity="0.30"/>
</svg>
<rect x="59.8" y="392.2" width="93.7" height="92.3" fill="none" stroke="#3a3a3a" stroke-width="1"/>
<svg x="59.3" y="489.2" width="94.7" height="93.8" viewBox="0 0 94.7 93.8" overflow="hidden">
<rect width="94.7" height="93.8" fill="#acacac"/>
<g filter="url(#soft)">
<path d="M0.0,0.0 L94.7,0.0 L94.7,93.8 L0.0,93.8 Z" fill="#acacac"/>
<path d="M0.0,0.0 L94.7,0.0 L94.7,26.0 L0.0,26.0 Z" fill="#9c9c9c"/>
<path d="M8.7,30.0 L18.7,20.0 L45.3,21.8 L53.6,26.8 L70.2,29.0 L78.6,46.7 L76.9,66.7 L65.3,71.7 L40.3,67.7 L18.7,61.0 L8.7,46.7 Z" fill="#8a8a8a" stroke="#8a8a8a" stroke-width="2" stroke-linejoin="round"/>
<ellipse cx="32.0" cy="35.0" rx="14.0" ry="11.0" fill="#d2d2d2"/>
<ellipse cx="58.0" cy="38.0" rx="11.0" ry="7.5" fill="#d0d0d0"/>
<path d="M22.0,48.0 L40.0,44.0 L56.0,48.0 L72.0,46.0 L76.0,56.0 L72.0,66.0 L60.0,68.0 L40.0,64.0 L24.0,58.0 Z" fill="#d4d4d4"/>
<ellipse cx="46.0" cy="40.0" rx="6.0" ry="5.0" fill="#9c9c9c"/>
<path d="M0.0,62.0 L30.0,72.0 L60.0,78.0 L94.7,76.0 L94.7,93.8 L0.0,93.8 Z" fill="#b6b6b6"/>
</g>
<g>
<path d="M0.0,62.0 L30.0,72.0 L60.0,78.0 L94.7,76.0 L94.7,93.8 L0.0,93.8 Z" fill="url(#strA)"/>
</g>
<g filter="url(#spkL)">
<path d="M4.0,0.0 L76.0,0.0 L80.0,14.0 L70.0,22.0 L46.0,20.0 L20.0,22.0 L6.0,18.0 Z" fill="#000"/>
<path d="M72.0,26.0 L94.7,28.0 L94.7,50.0 L86.0,48.0 L78.0,38.0 Z" fill="#000"/>
<path d="M2.0,30.0 L10.0,28.0 L12.0,54.0 L4.0,58.0 Z" fill="#000"/>
</g>
<rect width="94.7" height="93.8" fill="#000" filter="url(#spkS)" opacity="0.55"/>
<rect x="65.5" y="88.4" width="27.5" height="1.5" fill="#111"/>
<rect width="94.7" height="93.8" filter="url(#grain)" opacity="0.30"/>
</svg>
<rect x="59.8" y="489.7" width="93.7" height="92.8" fill="none" stroke="#3a3a3a" stroke-width="1"/>
<text x="364.60" y="10.10" font-size="10.40" text-anchor="middle" fill="#1a1a1a">Roundness (a.u.)</text>
<text x="493.60" y="10.10" font-size="10.40" text-anchor="middle" fill="#1a1a1a">Aspect Ratio (a.u.)</text>
<text x="619.60" y="10.10" font-size="10.40" text-anchor="middle" fill="#1a1a1a">Area (µm²)</text>
<text x="288.70" y="84.40" font-size="7.70" text-anchor="middle" fill="#1a1a1a" transform="rotate(-90 288.70 84.40)">Density distribution (%)</text>
<text x="287.90" y="208.00" font-size="7.70" text-anchor="middle" fill="#1a1a1a" transform="rotate(-90 287.90 208.00)">Density distribution (%)</text>
<line x1="304.80" y1="26.00" x2="304.80" y2="137.00" stroke="#1a1a1a" stroke-width="1.30"/>
<line x1="304.20" y1="136.40" x2="414.60" y2="136.40" stroke="#1a1a1a" stroke-width="1.30"/>
<line x1="303.00" y1="136.40" x2="304.80" y2="136.40" stroke="#1a1a1a" stroke-width="0.80"/>
<text x="302.90" y="139.10" font-size="6.30" text-anchor="end" fill="#161616">0</text>
<line x1="303.00" y1="114.32" x2="304.80" y2="114.32" stroke="#1a1a1a" stroke-width="0.80"/>
<text x="302.90" y="117.02" font-size="6.30" text-anchor="end" fill="#161616">0.5</text>
<line x1="303.00" y1="92.24" x2="304.80" y2="92.24" stroke="#1a1a1a" stroke-width="0.80"/>
<text x="302.90" y="94.94" font-size="6.30" text-anchor="end" fill="#161616">1.0</text>
<line x1="303.00" y1="70.16" x2="304.80" y2="70.16" stroke="#1a1a1a" stroke-width="0.80"/>
<text x="302.90" y="72.86" font-size="6.30" text-anchor="end" fill="#161616">1.5</text>
<line x1="303.00" y1="48.08" x2="304.80" y2="48.08" stroke="#1a1a1a" stroke-width="0.80"/>
<text x="302.90" y="50.78" font-size="6.30" text-anchor="end" fill="#161616">2.0</text>
<line x1="303.00" y1="26.00" x2="304.80" y2="26.00" stroke="#1a1a1a" stroke-width="0.80"/>
<text x="302.90" y="28.70" font-size="6.30" text-anchor="end" fill="#161616">2.5</text>
<line x1="332.45" y1="136.40" x2="332.45" y2="138.40" stroke="#1a1a1a" stroke-width="0.80"/>
<text x="333.25" y="145.00" font-size="6.30" text-anchor="middle" fill="#161616">0.25</text>
<line x1="359.90" y1="136.40" x2="359.90" y2="138.40" stroke="#1a1a1a" stroke-width="0.80"/>
<text x="360.70" y="145.00" font-size="6.30" text-anchor="middle" fill="#161616">0.50</text>
<line x1="387.35" y1="136.40" x2="387.35" y2="138.40" stroke="#1a1a1a" stroke-width="0.80"/>
<text x="388.15" y="145.00" font-size="6.30" text-anchor="middle" fill="#161616">0.75</text>
<line x1="414.80" y1="136.40" x2="414.80" y2="138.40" stroke="#1a1a1a" stroke-width="0.80"/>
<text x="415.60" y="145.00" font-size="6.30" text-anchor="middle" fill="#161616">1</text>
<line x1="434.80" y1="27.00" x2="434.80" y2="136.40" stroke="#1a1a1a" stroke-width="1.30"/>
<line x1="434.20" y1="135.80" x2="544.00" y2="135.80" stroke="#1a1a1a" stroke-width="1.30"/>
<line x1="433.00" y1="135.80" x2="434.80" y2="135.80" stroke="#1a1a1a" stroke-width="0.80"/>
<text x="432.90" y="138.50" font-size="6.30" text-anchor="end" fill="#161616">0</text>
<line x1="433.00" y1="99.53" x2="434.80" y2="99.53" stroke="#1a1a1a" stroke-width="0.80"/>
<text x="432.90" y="102.23" font-size="6.30" text-anchor="end" fill="#161616">0.5</text>
<line x1="433.00" y1="63.27" x2="434.80" y2="63.27" stroke="#1a1a1a" stroke-width="0.80"/>
<text x="432.90" y="65.97" font-size="6.30" text-anchor="end" fill="#161616">1.0</text>
<line x1="433.00" y1="27.00" x2="434.80" y2="27.00" stroke="#1a1a1a" stroke-width="0.80"/>
<text x="432.90" y="29.70" font-size="6.30" text-anchor="end" fill="#161616">1.5</text>
<line x1="447.20" y1="135.80" x2="447.20" y2="137.80" stroke="#1a1a1a" stroke-width="0.80"/>
<text x="447.40" y="144.80" font-size="6.30" text-anchor="middle" fill="#161616">1</text>
<line x1="471.27" y1="135.80" x2="471.27" y2="137.80" stroke="#1a1a1a" stroke-width="0.80"/>
<text x="471.47" y="144.80" font-size="6.30" text-anchor="middle" fill="#161616">2</text>
<line x1="495.34" y1="135.80" x2="495.34" y2="137.80" stroke="#1a1a1a" stroke-width="0.80"/>
<text x="495.54" y="144.80" font-size="6.30" text-anchor="middle" fill="#161616">3</text>
<line x1="519.41" y1="135.80" x2="519.41" y2="137.80" stroke="#1a1a1a" stroke-width="0.80"/>
<text x="519.61" y="144.80" font-size="6.30" text-anchor="middle" fill="#161616">4</text>
<line x1="543.48" y1="135.80" x2="543.48" y2="137.80" stroke="#1a1a1a" stroke-width="0.80"/>
<text x="543.68" y="144.80" font-size="6.30" text-anchor="middle" fill="#161616">5</text>
<line x1="558.60" y1="26.20" x2="558.60" y2="137.40" stroke="#1a1a1a" stroke-width="1.30"/>
<line x1="558.00" y1="136.80" x2="669.00" y2="136.80" stroke="#1a1a1a" stroke-width="1.30"/>
<line x1="556.80" y1="136.80" x2="558.60" y2="136.80" stroke="#1a1a1a" stroke-width="0.80"/>
<text x="556.70" y="139.50" font-size="6.30" text-anchor="end" fill="#161616">0</text>
<line x1="556.80" y1="109.15" x2="558.60" y2="109.15" stroke="#1a1a1a" stroke-width="0.80"/>
<text x="556.70" y="111.85" font-size="6.30" text-anchor="end" fill="#161616">2.5</text>
<line x1="556.80" y1="81.50" x2="558.60" y2="81.50" stroke="#1a1a1a" stroke-width="0.80"/>
<text x="556.70" y="84.20" font-size="6.30" text-anchor="end" fill="#161616">5.0</text>
<line x1="556.80" y1="53.85" x2="558.60" y2="53.85" stroke="#1a1a1a" stroke-width="0.80"/>
<text x="556.70" y="56.55" font-size="6.30" text-anchor="end" fill="#161616">7.5</text>
<line x1="556.80" y1="26.20" x2="558.60" y2="26.20" stroke="#1a1a1a" stroke-width="0.80"/>
<text x="556.70" y="28.90" font-size="6.30" text-anchor="end" fill="#161616">10.0</text>
<line x1="577.35" y1="136.80" x2="577.35" y2="138.80" stroke="#1a1a1a" stroke-width="0.80"/>
<text x="577.65" y="144.80" font-size="6.30" text-anchor="middle" fill="#161616">0.1</text>
<line x1="595.50" y1="136.80" x2="595.50" y2="138.80" stroke="#1a1a1a" stroke-width="0.80"/>
<text x="595.80" y="144.80" font-size="6.30" text-anchor="middle" fill="#161616">0.2</text>
<line x1="613.65" y1="136.80" x2="613.65" y2="138.80" stroke="#1a1a1a" stroke-width="0.80"/>
<text x="613.95" y="144.80" font-size="6.30" text-anchor="middle" fill="#161616">0.3</text>
<line x1="631.80" y1="136.80" x2="631.80" y2="138.80" stroke="#1a1a1a" stroke-width="0.80"/>
<text x="632.10" y="144.80" font-size="6.30" text-anchor="middle" fill="#161616">0.4</text>
<line x1="649.95" y1="136.80" x2="649.95" y2="138.80" stroke="#1a1a1a" stroke-width="0.80"/>
<text x="650.25" y="144.80" font-size="6.30" text-anchor="middle" fill="#161616">0.5</text>
<line x1="668.10" y1="136.80" x2="668.10" y2="138.80" stroke="#1a1a1a" stroke-width="0.80"/>
<text x="668.40" y="144.80" font-size="6.30" text-anchor="middle" fill="#161616">0.6</text>
<line x1="304.60" y1="159.70" x2="304.60" y2="272.20" stroke="#1a1a1a" stroke-width="1.30"/>
<line x1="304.00" y1="271.60" x2="415.60" y2="271.60" stroke="#1a1a1a" stroke-width="1.30"/>
<line x1="302.80" y1="271.60" x2="304.60" y2="271.60" stroke="#1a1a1a" stroke-width="0.80"/>
<text x="302.70" y="274.30" font-size="6.30" text-anchor="end" fill="#161616">0</text>
<line x1="302.80" y1="249.22" x2="304.60" y2="249.22" stroke="#1a1a1a" stroke-width="0.80"/>
<text x="302.70" y="251.92" font-size="6.30" text-anchor="end" fill="#161616">0.5</text>
<line x1="302.80" y1="226.84" x2="304.60" y2="226.84" stroke="#1a1a1a" stroke-width="0.80"/>
<text x="302.70" y="229.54" font-size="6.30" text-anchor="end" fill="#161616">1.0</text>
<line x1="302.80" y1="204.46" x2="304.60" y2="204.46" stroke="#1a1a1a" stroke-width="0.80"/>
<text x="302.70" y="207.16" font-size="6.30" text-anchor="end" fill="#161616">1.5</text>
<line x1="302.80" y1="182.08" x2="304.60" y2="182.08" stroke="#1a1a1a" stroke-width="0.80"/>
<text x="302.70" y="184.78" font-size="6.30" text-anchor="end" fill="#161616">2.0</text>
<line x1="302.80" y1="159.70" x2="304.60" y2="159.70" stroke="#1a1a1a" stroke-width="0.80"/>
<text x="302.70" y="162.40" font-size="6.30" text-anchor="end" fill="#161616">2.5</text>
<line x1="332.65" y1="271.60" x2="332.65" y2="273.60" stroke="#1a1a1a" stroke-width="0.80"/>
<text x="334.65" y="279.00" font-size="6.30" text-anchor="middle" fill="#161616">0.25</text>
<line x1="360.10" y1="271.60" x2="360.10" y2="273.60" stroke="#1a1a1a" stroke-width="0.80"/>
<text x="362.10" y="279.00" font-size="6.30" text-anchor="middle" fill="#161616">0.50</text>
<line x1="387.55" y1="271.60" x2="387.55" y2="273.60" stroke="#1a1a1a" stroke-width="0.80"/>
<text x="389.55" y="279.00" font-size="6.30" text-anchor="middle" fill="#161616">0.75</text>
<line x1="415.00" y1="271.60" x2="415.00" y2="273.60" stroke="#1a1a1a" stroke-width="0.80"/>
<text x="417.00" y="279.00" font-size="6.30" text-anchor="middle" fill="#161616">1</text>
<line x1="434.30" y1="162.60" x2="434.30" y2="272.50" stroke="#1a1a1a" stroke-width="1.30"/>
<line x1="433.70" y1="271.90" x2="543.60" y2="271.90" stroke="#1a1a1a" stroke-width="1.30"/>
<line x1="432.50" y1="271.90" x2="434.30" y2="271.90" stroke="#1a1a1a" stroke-width="0.80"/>
<text x="432.40" y="274.60" font-size="6.30" text-anchor="end" fill="#161616">0</text>
<line x1="432.50" y1="235.47" x2="434.30" y2="235.47" stroke="#1a1a1a" stroke-width="0.80"/>
<text x="432.40" y="238.17" font-size="6.30" text-anchor="end" fill="#161616">0.5</text>
<line x1="432.50" y1="199.03" x2="434.30" y2="199.03" stroke="#1a1a1a" stroke-width="0.80"/>
<text x="432.40" y="201.73" font-size="6.30" text-anchor="end" fill="#161616">1.0</text>
<line x1="432.50" y1="162.60" x2="434.30" y2="162.60" stroke="#1a1a1a" stroke-width="0.80"/>
<text x="432.40" y="165.30" font-size="6.30" text-anchor="end" fill="#161616">1.5</text>
<line x1="446.60" y1="271.90" x2="446.60" y2="273.90" stroke="#1a1a1a" stroke-width="0.80"/>
<text x="446.80" y="279.20" font-size="6.30" text-anchor="middle" fill="#161616">1</text>
<line x1="470.67" y1="271.90" x2="470.67" y2="273.90" stroke="#1a1a1a" stroke-width="0.80"/>
<text x="470.87" y="279.20" font-size="6.30" text-anchor="middle" fill="#161616">2</text>
<line x1="494.74" y1="271.90" x2="494.74" y2="273.90" stroke="#1a1a1a" stroke-width="0.80"/>
<text x="494.94" y="279.20" font-size="6.30" text-anchor="middle" fill="#161616">3</text>
<line x1="518.81" y1="271.90" x2="518.81" y2="273.90" stroke="#1a1a1a" stroke-width="0.80"/>
<text x="519.01" y="279.20" font-size="6.30" text-anchor="middle" fill="#161616">4</text>
<line x1="542.88" y1="271.90" x2="542.88" y2="273.90" stroke="#1a1a1a" stroke-width="0.80"/>
<text x="543.08" y="279.20" font-size="6.30" text-anchor="middle" fill="#161616">5</text>
<line x1="558.70" y1="158.60" x2="558.70" y2="272.60" stroke="#1a1a1a" stroke-width="1.30"/>
<line x1="558.10" y1="272.00" x2="670.60" y2="272.00" stroke="#1a1a1a" stroke-width="1.30"/>
<line x1="556.90" y1="272.00" x2="558.70" y2="272.00" stroke="#1a1a1a" stroke-width="0.80"/>
<text x="556.80" y="274.70" font-size="6.30" text-anchor="end" fill="#161616">0</text>
<line x1="556.90" y1="243.65" x2="558.70" y2="243.65" stroke="#1a1a1a" stroke-width="0.80"/>
<text x="556.80" y="246.35" font-size="6.30" text-anchor="end" fill="#161616">2.5</text>
<line x1="556.90" y1="215.30" x2="558.70" y2="215.30" stroke="#1a1a1a" stroke-width="0.80"/>
<text x="556.80" y="218.00" font-size="6.30" text-anchor="end" fill="#161616">5.0</text>
<line x1="556.90" y1="186.95" x2="558.70" y2="186.95" stroke="#1a1a1a" stroke-width="0.80"/>
<text x="556.80" y="189.65" font-size="6.30" text-anchor="end" fill="#161616">7.5</text>
<line x1="556.90" y1="158.60" x2="558.70" y2="158.60" stroke="#1a1a1a" stroke-width="0.80"/>
<text x="556.80" y="161.30" font-size="6.30" text-anchor="end" fill="#161616">10.0</text>
<line x1="577.60" y1="272.00" x2="577.60" y2="274.00" stroke="#1a1a1a" stroke-width="0.80"/>
<text x="577.90" y="279.30" font-size="6.30" text-anchor="middle" fill="#161616">0.1</text>
<line x1="595.90" y1="272.00" x2="595.90" y2="274.00" stroke="#1a1a1a" stroke-width="0.80"/>
<text x="596.20" y="279.30" font-size="6.30" text-anchor="middle" fill="#161616">0.2</text>
<line x1="614.20" y1="272.00" x2="614.20" y2="274.00" stroke="#1a1a1a" stroke-width="0.80"/>
<text x="614.50" y="279.30" font-size="6.30" text-anchor="middle" fill="#161616">0.3</text>
<line x1="632.50" y1="272.00" x2="632.50" y2="274.00" stroke="#1a1a1a" stroke-width="0.80"/>
<text x="632.80" y="279.30" font-size="6.30" text-anchor="middle" fill="#161616">0.4</text>
<line x1="650.80" y1="272.00" x2="650.80" y2="274.00" stroke="#1a1a1a" stroke-width="0.80"/>
<text x="651.10" y="279.30" font-size="6.30" text-anchor="middle" fill="#161616">0.5</text>
<line x1="669.10" y1="272.00" x2="669.10" y2="274.00" stroke="#1a1a1a" stroke-width="0.80"/>
<text x="669.40" y="279.30" font-size="6.30" text-anchor="middle" fill="#161616">0.6</text>
<line x1="370.00" y1="136.00" x2="370.00" y2="26.00" stroke="#7d7d7d" stroke-width="1.50" stroke-dasharray="9.3 5.7"/>
<line x1="462.90" y1="135.40" x2="462.90" y2="27.00" stroke="#8a8a8a" stroke-width="1.60" stroke-dasharray="9.3 5.7"/>
<line x1="571.20" y1="136.40" x2="571.20" y2="26.20" stroke="#6a6a6a" stroke-width="0.90" stroke-dasharray="9.3 5.7"/>
<line x1="368.20" y1="271.20" x2="368.20" y2="160.00" stroke="#f5a868" stroke-width="1.30" stroke-dasharray="9.3 5.7"/>
<line x1="375.80" y1="271.20" x2="375.80" y2="160.00" stroke="#df8a5a" stroke-width="1.30" stroke-dasharray="9.3 5.7"/>
<line x1="458.50" y1="271.50" x2="458.50" y2="165.50" stroke="#e6804e" stroke-width="1.30" stroke-dasharray="9.3 5.7"/>
<line x1="464.10" y1="271.50" x2="464.10" y2="165.50" stroke="#f7b47a" stroke-width="1.30" stroke-dasharray="9.3 5.7"/>
<line x1="569.40" y1="271.60" x2="569.40" y2="160.00" stroke="#f5a868" stroke-width="1.30" stroke-dasharray="9.3 5.7"/>
<line x1="573.30" y1="271.60" x2="573.30" y2="160.00" stroke="#df8a5a" stroke-width="1.30" stroke-dasharray="9.3 5.7"/>
<g stroke-linecap="round" stroke-linejoin="round">
<path d="M304.6,136.0 C306.6,135.5 312.8,134.6 316.5,132.8 C320.2,131.0 323.7,128.7 326.8,125.0 C329.9,121.3 332.6,116.4 335.0,110.6 C337.4,104.8 339.3,96.3 341.2,90.0 C343.1,83.7 344.4,76.7 346.3,72.5 C348.2,68.3 350.6,65.6 352.5,64.9 C354.4,64.2 356.1,67.1 357.6,68.4 C359.2,69.7 360.4,72.8 361.8,72.5 C363.2,72.2 364.4,68.7 365.9,66.3 C367.4,63.9 368.9,59.6 371.0,58.1 C373.1,56.6 376.0,57.3 378.2,57.1 C380.4,56.9 382.7,56.6 384.4,57.1 C386.1,57.6 387.1,58.2 388.5,60.1 C389.9,62.0 391.2,65.1 392.6,68.4 C394.0,71.7 395.0,74.1 396.7,79.7 C398.4,85.3 400.8,95.4 402.9,102.3 C405.0,109.2 407.2,115.9 409.1,120.9 C411.0,125.9 413.4,130.3 414.2,132.2" stroke="#8c8c8c" stroke-width="2.50" fill="none"/>
<path d="M304.6,136.2 C306.9,135.9 314.8,136.4 318.5,134.2 C322.2,132.0 324.2,127.5 326.8,122.9 C329.4,118.3 331.8,111.5 334.0,106.5 C336.2,101.5 338.4,95.7 340.1,93.1 C341.8,90.5 342.8,91.7 344.3,91.0 C345.9,90.3 347.7,90.5 349.4,89.0 C351.1,87.5 352.6,85.2 354.5,81.8 C356.4,78.4 358.8,73.2 360.7,68.4 C362.6,63.6 364.3,56.2 365.9,52.9 C367.4,49.6 368.6,48.6 370.0,48.6 C371.4,48.6 372.6,50.3 374.1,52.9 C375.7,55.5 377.4,61.5 379.3,64.3 C381.2,67.0 383.5,68.2 385.4,69.4 C387.3,70.6 388.9,70.3 390.6,71.5 C392.3,72.7 394.0,73.9 395.7,76.6 C397.4,79.3 399.0,82.2 400.9,87.9 C402.8,93.6 404.8,103.7 407.0,110.6 C409.2,117.5 413.0,126.0 414.2,129.1" stroke="#262626" stroke-width="2.50" fill="none"/>
<path d="M435.5,135.3 C436.5,135.1 439.5,136.6 441.3,134.2 C443.1,131.8 444.9,127.9 446.5,120.9 C448.1,113.9 449.4,99.4 450.6,92.0 C451.8,84.6 452.8,79.6 453.7,76.6 C454.6,73.6 455.3,73.6 456.3,73.9 C457.3,74.2 458.5,76.0 459.8,78.7 C461.1,81.4 462.6,86.1 464.0,90.0 C465.4,93.9 466.7,99.0 468.1,102.3 C469.5,105.5 470.7,108.1 472.2,109.5 C473.7,110.9 475.6,109.9 477.3,110.6 C479.0,111.3 480.8,112.0 482.5,113.7 C484.2,115.4 485.7,118.7 487.6,120.9 C489.5,123.1 491.4,125.6 493.8,127.0 C496.2,128.4 499.6,128.4 502.0,129.1 C504.4,129.8 505.8,130.4 508.2,131.2 C510.6,131.9 513.1,133.2 516.5,133.6 C519.9,134.0 524.3,133.4 528.8,133.6 C533.2,133.8 540.8,134.8 543.2,135.0" stroke="#8c8c8c" stroke-width="2.50" fill="none"/>
<path d="M435.5,135.3 C436.3,135.1 438.8,135.6 440.3,134.2 C441.8,132.8 443.0,131.6 444.4,127.0 C445.8,122.4 447.3,113.0 448.5,106.5 C449.7,100.0 450.6,92.5 451.6,87.9 C452.6,83.3 453.7,80.4 454.7,78.7 C455.7,77.0 456.6,77.5 457.8,78.0 C459.0,78.5 460.5,79.8 461.9,81.8 C463.3,83.8 464.6,86.9 466.0,90.0 C467.4,93.1 468.6,96.7 470.1,100.3 C471.7,103.9 473.4,108.2 475.3,111.6 C477.2,115.0 479.1,118.3 481.5,120.9 C483.9,123.5 487.0,125.8 489.7,127.0 C492.4,128.2 495.7,128.3 497.9,128.1 C500.1,127.9 501.6,126.0 503.1,126.0 C504.7,126.0 505.3,126.8 507.2,128.1 C509.1,129.4 511.8,132.6 514.4,133.6 C517.0,134.6 520.4,133.9 522.6,133.8 C524.8,133.7 525.7,132.7 527.8,132.8 C529.9,132.9 532.4,133.8 535.0,134.2 C537.6,134.5 541.8,134.8 543.2,134.9" stroke="#262626" stroke-width="2.50" fill="none"/>
<path d="M558.8,104.4 C559.0,100.6 559.5,88.3 560.1,81.8 C560.7,75.3 561.3,68.9 562.2,65.3 C563.1,61.7 564.3,60.3 565.3,60.1 C566.3,59.9 567.4,61.4 568.4,64.3 C569.4,67.2 570.5,73.3 571.5,77.6 C572.5,81.9 573.4,86.5 574.6,90.0 C575.8,93.5 577.2,96.1 578.7,98.3 C580.2,100.5 582.1,101.2 583.8,103.4 C585.5,105.6 587.3,108.8 589.0,111.6 C590.7,114.3 592.4,117.5 594.1,119.9 C595.8,122.3 597.2,124.5 599.3,126.0 C601.4,127.5 604.3,128.2 606.5,129.1 C608.7,130.0 610.7,130.9 612.6,131.6 C614.5,132.2 616.1,132.6 617.8,133.0 C619.5,133.4 620.7,133.6 622.9,134.0 C625.1,134.4 627.8,134.9 631.2,135.2 C634.6,135.5 639.0,135.6 643.5,135.7 C648.0,135.8 653.8,135.8 657.9,135.9 C662.0,136.0 666.5,136.4 668.2,136.5" stroke="#8c8c8c" stroke-width="2.50" fill="none"/>
<path d="M558.8,104.4 C559.0,100.6 559.5,88.3 560.1,81.8 C560.7,75.3 561.3,68.9 562.2,65.3 C563.1,61.7 564.3,60.3 565.3,60.1 C566.3,59.9 567.4,61.4 568.4,64.3 C569.4,67.2 570.5,73.3 571.5,77.6 C572.5,81.9 573.4,86.4 574.6,90.0 C575.8,93.6 577.2,96.9 578.7,99.3 C580.2,101.7 582.1,102.2 583.8,104.4 C585.5,106.6 587.3,109.8 589.0,112.6 C590.7,115.3 592.4,118.5 594.1,120.9 C595.8,123.3 597.2,125.6 599.3,127.0 C601.4,128.4 604.3,128.6 606.5,129.1 C608.7,129.6 610.7,129.8 612.6,130.1 C614.5,130.4 616.1,130.2 617.8,130.7 C619.5,131.1 620.7,132.1 622.9,132.8 C625.1,133.5 627.8,134.4 631.2,134.9 C634.6,135.4 639.0,135.5 643.5,135.7 C648.0,135.9 653.8,135.8 657.9,135.9 C662.0,136.0 666.5,136.4 668.2,136.5" stroke="#333" stroke-width="2.50" fill="none"/>
<path d="M304.6,271.3 C306.0,271.1 310.1,271.6 312.9,270.0 C315.7,268.4 318.9,263.9 321.4,261.4 C323.9,258.9 325.8,257.9 327.9,255.0 C330.0,252.2 332.2,249.0 334.3,244.3 C336.4,239.7 338.7,232.5 340.7,227.1 C342.7,221.7 344.3,216.2 346.1,212.1 C347.9,208.0 349.4,205.7 351.4,202.5 C353.4,199.3 355.8,195.6 357.9,192.9 C360.0,190.2 362.2,188.0 364.3,186.4 C366.4,184.8 368.9,183.4 370.7,183.2 C372.5,183.0 373.6,183.8 375.0,185.4 C376.4,187.0 377.9,190.4 379.3,192.9 C380.7,195.4 381.8,197.9 383.6,200.4 C385.4,202.9 388.0,204.5 390.0,207.9 C392.0,211.3 393.6,216.1 395.4,220.7 C397.2,225.3 398.8,230.7 400.7,235.7 C402.6,240.7 405.0,246.2 407.1,250.7 C409.2,255.2 412.2,260.0 413.6,262.5 C415.0,265.0 415.3,265.0 415.6,265.5" stroke="#f6994c" stroke-width="2.50" fill="none"/>
<path d="M304.6,271.4 C307.4,271.3 317.5,271.8 321.4,271.0 C325.3,270.2 325.8,269.5 327.9,266.8 C330.0,264.1 332.2,259.5 334.3,255.0 C336.4,250.5 338.6,245.2 340.7,240.0 C342.8,234.8 345.0,228.4 347.1,223.9 C349.2,219.4 351.5,215.7 353.6,213.2 C355.8,210.7 358.2,210.5 360.0,208.9 C361.8,207.3 362.9,206.3 364.3,203.6 C365.7,200.9 367.0,196.7 368.6,192.9 C370.2,189.2 372.1,183.7 373.9,181.1 C375.7,178.5 377.9,177.8 379.3,177.3 C380.7,176.8 381.1,176.7 382.5,178.2 C383.9,179.7 385.9,183.8 387.9,186.4 C389.9,189.0 392.4,191.0 394.3,193.9 C396.2,196.8 397.8,199.1 399.6,203.6 C401.4,208.1 403.2,214.6 405.0,220.7 C406.8,226.8 408.6,233.4 410.4,240.0 C412.2,246.6 414.7,256.7 415.6,260.0" stroke="#d85f1f" stroke-width="2.50" fill="none"/>
<path d="M434.6,271.5 C435.9,271.3 440.4,272.6 442.4,270.3 C444.4,268.0 445.1,264.1 446.5,257.9 C447.9,251.7 449.2,240.0 450.6,233.2 C452.0,226.3 453.5,220.0 454.7,216.8 C455.9,213.7 456.8,214.3 457.8,214.3 C458.8,214.3 459.7,215.0 460.9,216.8 C462.1,218.6 463.6,222.3 465.0,225.0 C466.4,227.7 467.6,230.3 469.1,233.2 C470.7,236.1 472.4,239.4 474.3,242.5 C476.2,245.6 478.2,249.1 480.4,251.7 C482.6,254.3 485.0,255.8 487.6,257.9 C490.2,260.0 492.8,262.4 495.9,264.1 C499.0,265.8 502.4,267.2 506.2,268.2 C510.0,269.2 514.7,269.8 518.5,270.3 C522.3,270.8 525.7,271.0 528.8,271.0 C531.9,271.0 534.6,270.4 537.0,270.5 C539.4,270.6 542.2,271.3 543.2,271.5" stroke="#f6994c" stroke-width="2.50" fill="none"/>
<path d="M434.6,271.5 C435.6,271.4 438.7,272.6 440.3,271.0 C441.9,269.4 443.2,267.6 444.4,262.0 C445.6,256.4 446.6,245.2 447.5,237.3 C448.4,229.4 448.9,220.9 449.6,214.7 C450.3,208.5 450.8,203.5 451.6,200.3 C452.4,197.2 453.4,196.2 454.3,195.8 C455.2,195.5 455.9,196.1 456.8,198.2 C457.7,200.3 458.8,204.7 459.8,208.5 C460.8,212.3 461.9,216.8 462.9,220.9 C463.9,225.0 464.8,229.4 466.0,233.2 C467.2,237.0 468.6,240.8 470.1,243.5 C471.7,246.2 473.6,247.6 475.3,249.7 C477.0,251.8 478.7,254.0 480.4,255.9 C482.1,257.8 483.7,259.3 485.6,261.0 C487.5,262.7 489.4,265.0 491.8,266.2 C494.2,267.4 497.3,267.5 500.0,268.2 C502.7,268.9 504.4,269.8 508.2,270.3 C512.0,270.8 517.8,270.9 522.6,271.0 C527.4,271.1 533.6,271.0 537.0,271.1 C540.4,271.2 542.2,271.4 543.2,271.5" stroke="#d85f1f" stroke-width="2.50" fill="none"/>
<path d="M559.2,231.4 C559.5,225.0 560.4,202.7 561.0,192.9 C561.6,183.1 562.5,176.2 563.1,172.4 C563.7,168.7 564.0,169.9 564.6,170.4 C565.2,170.9 566.1,171.9 566.8,175.7 C567.5,179.4 568.0,186.5 568.9,192.9 C569.8,199.3 571.0,208.2 572.1,214.3 C573.2,220.4 574.1,225.4 575.4,229.3 C576.6,233.2 578.2,235.4 579.6,237.9 C581.0,240.4 582.6,242.2 583.9,244.3 C585.1,246.4 586.0,247.8 587.1,250.7 C588.2,253.5 589.1,258.9 590.4,261.4 C591.6,263.9 593.0,265.2 594.6,265.7 C596.2,266.2 598.2,265.0 600.0,264.6 C601.8,264.2 603.6,263.2 605.4,263.6 C607.2,264.0 608.8,266.3 610.7,266.8 C612.7,267.3 615.0,266.5 617.1,266.8 C619.2,267.1 621.5,268.2 623.6,268.9 C625.8,269.6 627.1,270.6 630.0,271.1 C632.9,271.6 638.9,271.6 640.7,271.7" stroke="#f6994c" stroke-width="2.50" fill="none"/>
<path d="M559.2,229.3 C559.5,227.2 560.4,219.6 561.0,216.4 C561.6,213.2 562.4,211.5 563.1,210.4 C563.8,209.3 564.5,209.3 565.3,210.0 C566.1,210.7 566.9,211.8 567.9,214.3 C568.9,216.8 570.0,221.4 571.1,225.0 C572.2,228.6 573.0,232.8 574.3,235.7 C575.5,238.5 577.2,240.5 578.6,242.1 C580.0,243.7 581.3,244.5 582.9,245.4 C584.5,246.3 586.4,246.6 588.2,247.5 C590.0,248.4 591.6,249.4 593.6,250.7 C595.6,251.9 597.9,253.6 600.0,255.0 C602.1,256.4 604.2,257.9 606.4,259.3 C608.5,260.7 610.4,262.5 612.9,263.6 C615.4,264.7 618.5,265.2 621.4,265.7 C624.2,266.2 627.1,266.4 630.0,266.8 C632.9,267.2 635.8,267.4 638.6,267.9 C641.5,268.4 643.9,269.5 647.1,270.0 C650.3,270.5 654.0,270.9 657.9,271.1 C661.8,271.4 668.3,271.4 670.4,271.5" stroke="#d85f1f" stroke-width="2.50" fill="none"/>
</g>
<line x1="367.40" y1="158.30" x2="376.50" y2="158.30" stroke="#111" stroke-width="1.30" stroke-linecap="round"/>
<path d="M370.20,154.30 L374.80,154.30 M371.35,152.31 L373.65,156.29 M373.65,152.31 L371.35,156.29" stroke="#222" stroke-width="0.90" stroke-linecap="round"/>
<line x1="457.40" y1="163.90" x2="464.60" y2="163.90" stroke="#111" stroke-width="1.30" stroke-linecap="round"/>
<path d="M458.80,160.00 L463.20,160.00 M459.90,158.09 L462.10,161.91 M462.10,158.09 L459.90,161.91" stroke="#222" stroke-width="0.90" stroke-linecap="round"/>
<line x1="568.50" y1="158.60" x2="574.50" y2="158.60" stroke="#111" stroke-width="1.30" stroke-linecap="round"/>
<path d="M569.30,154.20 L573.70,154.20 M570.40,152.29 L572.60,156.11 M572.60,152.29 L570.40,156.11" stroke="#222" stroke-width="0.90" stroke-linecap="round"/>
<text x="617.60" y="30.00" font-size="10.20" font-weight="bold" fill="#a8a8a8">MICE</text>
<line x1="616.40" y1="31.50" x2="645.90" y2="31.50" stroke="#a89a90" stroke-width="0.80"/>
<rect x="616.7" y="36.8" width="9.4" height="4.2" rx="2" fill="#8f8f8f"/>
<text x="628.60" y="41.00" font-size="7.60" fill="#1a1a1a">REST</text>
<rect x="616.7" y="45.1" width="9.4" height="4.4" rx="2" fill="#4a2210"/>
<text x="628.00" y="49.80" font-size="7.60" fill="#1a1a1a">+0 h</text>
<text x="626.60" y="172.90" font-size="10.20" font-weight="bold" fill="#f07d22">SIE</text>
<line x1="618.90" y1="175.40" x2="648.10" y2="175.40" stroke="#c8beb8" stroke-width="0.80"/>
<rect x="619.2" y="180.1" width="9.8" height="4.7" rx="2.2" fill="#f6a05a"/>
<text x="630.80" y="185.40" font-size="7.80" fill="#1a1a1a">REST</text>
<rect x="619.2" y="188.2" width="9.8" height="4.8" rx="2.2" fill="#d9622a"/>
<text x="630.80" y="193.00" font-size="7.80" fill="#1a1a1a">+0 h</text>
<rect x="24.8" y="294.2" width="27.6" height="92.4" fill="#fff" stroke="#222" stroke-width="1"/>
<rect x="24.8" y="392.2" width="27.6" height="92.6" fill="#12a3df" stroke="#222" stroke-width="1"/>
<rect x="24.8" y="489.7" width="27.6" height="94" fill="#2e2d8e" stroke="#222" stroke-width="1"/>
<text x="43.20" y="340.60" font-size="12.60" text-anchor="middle" fill="#111" transform="rotate(-90 43.20 340.60)">Healthy</text>
<text x="43.20" y="441.00" font-size="12.80" text-anchor="middle" fill="#111" transform="rotate(-90 43.20 441.00)">Moderate</text>
<text x="43.40" y="535.50" font-size="11.80" text-anchor="middle" fill="#fff" transform="rotate(-90 43.40 535.50)">Severe</text>
<line x1="235.20" y1="320.00" x2="235.20" y2="479.60" stroke="#111" stroke-width="1.60"/>
<line x1="234.40" y1="478.80" x2="335.60" y2="478.80" stroke="#111" stroke-width="1.60"/>
<line x1="229.00" y1="478.80" x2="235.20" y2="478.80" stroke="#111" stroke-width="1.50"/>
<text x="227.00" y="483.30" font-size="12.20" text-anchor="end" font-weight="bold" fill="#111" textLength="6.2" lengthAdjust="spacingAndGlyphs">0</text>
<line x1="229.00" y1="439.10" x2="235.20" y2="439.10" stroke="#111" stroke-width="1.50"/>
<text x="227.00" y="443.60" font-size="12.20" text-anchor="end" font-weight="bold" fill="#111" textLength="12.3" lengthAdjust="spacingAndGlyphs">25</text>
<line x1="229.00" y1="399.40" x2="235.20" y2="399.40" stroke="#111" stroke-width="1.50"/>
<text x="227.00" y="403.90" font-size="12.20" text-anchor="end" font-weight="bold" fill="#111" textLength="12.3" lengthAdjust="spacingAndGlyphs">50</text>
<line x1="229.00" y1="359.70" x2="235.20" y2="359.70" stroke="#111" stroke-width="1.50"/>
<text x="227.00" y="364.20" font-size="12.20" text-anchor="end" font-weight="bold" fill="#111" textLength="12.3" lengthAdjust="spacingAndGlyphs">75</text>
<line x1="229.00" y1="320.00" x2="235.20" y2="320.00" stroke="#111" stroke-width="1.50"/>
<text x="227.00" y="324.50" font-size="12.20" text-anchor="end" font-weight="bold" fill="#111" textLength="18.5" lengthAdjust="spacingAndGlyphs">100</text>
<line x1="263.90" y1="478.80" x2="263.90" y2="485.40" stroke="#111" stroke-width="1.60"/>
<line x1="306.80" y1="478.80" x2="306.80" y2="485.40" stroke="#111" stroke-width="1.60"/>
<rect x="251.1" y="320.00" width="26.2" height="158.80" fill="#fff" stroke="#111" stroke-width="1.6"/>
<rect x="294.3" y="320.00" width="26.2" height="158.80" fill="#fff" stroke="#111" stroke-width="1.6"/>
<rect x="294.3" y="331.60" width="26.2" height="14.70" fill="#13a2de" stroke="#111" stroke-width="1.6"/>
<rect x="294.3" y="320.00" width="26.2" height="11.60" fill="#2e2d8e" stroke="#111" stroke-width="1.6"/>
<line x1="251.10" y1="313.50" x2="320.80" y2="313.50" stroke="#333" stroke-width="1.00"/>
<path d="M284.10,305.10 L290.30,305.10 M285.65,302.42 L288.75,307.78 M288.75,302.42 L285.65,307.78" stroke="#222" stroke-width="1.00" stroke-linecap="round"/>
<text x="264.20" y="500.00" font-size="14.00" text-anchor="middle" font-weight="bold" fill="#bdbdbd">MICE</text>
<text x="307.30" y="500.00" font-size="14.00" text-anchor="middle" font-weight="bold" fill="#f07d22">SIE</text>
<text x="200.00" y="399.50" font-size="12.80" text-anchor="middle" font-weight="bold" fill="#111" transform="rotate(-90 200.00 399.50)">Mitochondrial pool (%)</text>
<rect x="201.6" y="526.4" width="15.6" height="8.6" fill="#fff" stroke="#222" stroke-width="1.2"/>
<rect x="201.6" y="547.9" width="15.6" height="8.6" fill="#12a3df" stroke="#222" stroke-width="1.2"/>
<rect x="201.6" y="567.8" width="15.6" height="8.6" fill="#2e2d8e" stroke="#222" stroke-width="1.2"/>
<text x="226.40" y="535.00" font-size="12.20" fill="#111">Healthy</text>
<text x="226.40" y="556.50" font-size="12.20" fill="#111">Moderate</text>
<text x="226.40" y="576.60" font-size="12.20" fill="#111">Severe</text>
<line x1="481.00" y1="302.40" x2="481.00" y2="425.70" stroke="#111" stroke-width="1.60"/>
<line x1="480.20" y1="424.90" x2="582.00" y2="424.90" stroke="#111" stroke-width="1.60"/>
<line x1="475.50" y1="424.90" x2="481.00" y2="424.90" stroke="#111" stroke-width="1.40"/>
<text x="473.50" y="428.10" font-size="9.80" text-anchor="end" font-weight="bold" fill="#111" textLength="4.8" lengthAdjust="spacingAndGlyphs">0</text>
<line x1="475.50" y1="400.40" x2="481.00" y2="400.40" stroke="#111" stroke-width="1.40"/>
<text x="473.50" y="403.60" font-size="9.80" text-anchor="end" font-weight="bold" fill="#111" textLength="4.8" lengthAdjust="spacingAndGlyphs">5</text>
<line x1="475.50" y1="375.90" x2="481.00" y2="375.90" stroke="#111" stroke-width="1.40"/>
<text x="473.50" y="379.10" font-size="9.80" text-anchor="end" font-weight="bold" fill="#111" textLength="9.7" lengthAdjust="spacingAndGlyphs">10</text>
<line x1="475.50" y1="351.40" x2="481.00" y2="351.40" stroke="#111" stroke-width="1.40"/>
<text x="473.50" y="354.60" font-size="9.80" text-anchor="end" font-weight="bold" fill="#111" textLength="9.7" lengthAdjust="spacingAndGlyphs">15</text>
<line x1="475.50" y1="326.90" x2="481.00" y2="326.90" stroke="#111" stroke-width="1.40"/>
<text x="473.50" y="330.10" font-size="9.80" text-anchor="end" font-weight="bold" fill="#111" textLength="9.7" lengthAdjust="spacingAndGlyphs">20</text>
<line x1="475.50" y1="302.40" x2="481.00" y2="302.40" stroke="#111" stroke-width="1.40"/>
<text x="473.50" y="305.60" font-size="9.80" text-anchor="end" font-weight="bold" fill="#111" textLength="9.7" lengthAdjust="spacingAndGlyphs">25</text>
<line x1="396.90" y1="453.60" x2="396.90" y2="575.80" stroke="#111" stroke-width="1.60"/>
<line x1="396.10" y1="575.00" x2="497.50" y2="575.00" stroke="#111" stroke-width="1.60"/>
<line x1="391.40" y1="575.00" x2="396.90" y2="575.00" stroke="#111" stroke-width="1.40"/>
<text x="389.90" y="578.40" font-size="10.40" text-anchor="end" font-weight="bold" fill="#111" textLength="5.1" lengthAdjust="spacingAndGlyphs">0</text>
<line x1="391.40" y1="534.53" x2="396.90" y2="534.53" stroke="#111" stroke-width="1.40"/>
<text x="389.90" y="537.93" font-size="10.40" text-anchor="end" font-weight="bold" fill="#111" textLength="10.2" lengthAdjust="spacingAndGlyphs">10</text>
<line x1="391.40" y1="494.07" x2="396.90" y2="494.07" stroke="#111" stroke-width="1.40"/>
<text x="389.90" y="497.47" font-size="10.40" text-anchor="end" font-weight="bold" fill="#111" textLength="10.2" lengthAdjust="spacingAndGlyphs">20</text>
<line x1="391.40" y1="453.60" x2="396.90" y2="453.60" stroke="#111" stroke-width="1.40"/>
<text x="389.90" y="457.00" font-size="10.40" text-anchor="end" font-weight="bold" fill="#111" textLength="10.2" lengthAdjust="spacingAndGlyphs">30</text>
<line x1="564.20" y1="453.60" x2="564.20" y2="576.60" stroke="#111" stroke-width="1.60"/>
<line x1="563.40" y1="575.80" x2="665.50" y2="575.80" stroke="#111" stroke-width="1.60"/>
<line x1="558.70" y1="575.80" x2="564.20" y2="575.80" stroke="#111" stroke-width="1.40"/>
<text x="557.20" y="579.20" font-size="10.40" text-anchor="end" font-weight="bold" fill="#111" textLength="5.1" lengthAdjust="spacingAndGlyphs">0</text>
<line x1="558.70" y1="545.25" x2="564.20" y2="545.25" stroke="#111" stroke-width="1.40"/>
<text x="557.20" y="548.65" font-size="10.40" text-anchor="end" font-weight="bold" fill="#111" textLength="10.2" lengthAdjust="spacingAndGlyphs">50</text>
<line x1="558.70" y1="514.70" x2="564.20" y2="514.70" stroke="#111" stroke-width="1.40"/>
<text x="557.20" y="518.10" font-size="10.40" text-anchor="end" font-weight="bold" fill="#111" textLength="15.3" lengthAdjust="spacingAndGlyphs">100</text>
<line x1="558.70" y1="484.15" x2="564.20" y2="484.15" stroke="#111" stroke-width="1.40"/>
<text x="557.20" y="487.55" font-size="10.40" text-anchor="end" font-weight="bold" fill="#111" textLength="15.3" lengthAdjust="spacingAndGlyphs">150</text>
<line x1="558.70" y1="453.60" x2="564.20" y2="453.60" stroke="#111" stroke-width="1.40"/>
<text x="557.20" y="457.00" font-size="10.40" text-anchor="end" font-weight="bold" fill="#111" textLength="15.3" lengthAdjust="spacingAndGlyphs">200</text>
<text x="458.00" y="363.40" font-size="9.90" text-anchor="middle" font-weight="bold" fill="#111" transform="rotate(-90 458.00 363.40)">Cristae width (nm)</text>
<text x="373.00" y="510.50" font-size="10.20" text-anchor="middle" font-weight="bold" fill="#111" transform="rotate(-90 373.00 510.50)">Cristae density (# per <tspan font-weight="normal">µ</tspan>m)</text>
<text x="522.20" y="514.60" font-size="9.90" text-anchor="middle" font-weight="bold" fill="#111" transform="rotate(-90 522.20 514.60)">Cristae junctions</text>
<text x="536.20" y="518.00" font-size="9.90" text-anchor="middle" font-weight="bold" fill="#111" transform="rotate(-90 536.20 518.00)">(# per <tspan font-weight="normal">µ</tspan>m<tspan dy="-3.6" font-size="7">2</tspan><tspan dy="3.6">)</tspan></text>
<circle cx="500.8" cy="312.7" r="2.55" fill="#ffffff" stroke="#111" stroke-width="0.85"/>
<circle cx="499.3" cy="317.0" r="2.55" fill="#ffffff" stroke="#111" stroke-width="0.85"/>
<circle cx="501.2" cy="317.4" r="2.55" fill="#ffffff" stroke="#111" stroke-width="0.85"/>
<circle cx="495.4" cy="321.2" r="2.55" fill="#ffffff" stroke="#111" stroke-width="0.85"/>
<circle cx="500.1" cy="321.2" r="2.55" fill="#ffffff" stroke="#111" stroke-width="0.85"/>
<circle cx="509.0" cy="321.2" r="2.55" fill="#ffffff" stroke="#111" stroke-width="0.85"/>
<circle cx="493.1" cy="325.5" r="2.55" fill="#ffffff" stroke="#111" stroke-width="0.85"/>
<circle cx="497.4" cy="325.5" r="2.55" fill="#ffffff" stroke="#111" stroke-width="0.85"/>
<circle cx="501.6" cy="326.3" r="2.55" fill="#ffffff" stroke="#111" stroke-width="0.85"/>
<circle cx="506.3" cy="325.5" r="2.55" fill="#ffffff" stroke="#111" stroke-width="0.85"/>
<circle cx="495.8" cy="329.7" r="2.55" fill="#ffffff" stroke="#111" stroke-width="0.85"/>
<circle cx="500.5" cy="330.1" r="2.55" fill="#ffffff" stroke="#111" stroke-width="0.85"/>
<circle cx="505.5" cy="329.7" r="2.55" fill="#ffffff" stroke="#111" stroke-width="0.85"/>
<circle cx="498.1" cy="334.4" r="2.55" fill="#ffffff" stroke="#111" stroke-width="0.85"/>
<circle cx="503.2" cy="334.4" r="2.55" fill="#ffffff" stroke="#111" stroke-width="0.85"/>
<circle cx="495.4" cy="338.2" r="2.55" fill="#ffffff" stroke="#111" stroke-width="0.85"/>
<circle cx="501.6" cy="338.6" r="2.55" fill="#ffffff" stroke="#111" stroke-width="0.85"/>
<circle cx="506.6" cy="338.2" r="2.55" fill="#ffffff" stroke="#111" stroke-width="0.85"/>
<circle cx="500.5" cy="342.9" r="2.55" fill="#ffffff" stroke="#111" stroke-width="0.85"/>
<circle cx="499.5" cy="347.2" r="2.55" fill="#ffffff" stroke="#111" stroke-width="0.85"/>
<circle cx="502.1" cy="347.2" r="2.55" fill="#ffffff" stroke="#111" stroke-width="0.85"/>
<circle cx="499.5" cy="351.6" r="2.55" fill="#ffffff" stroke="#111" stroke-width="0.85"/>
<circle cx="502.1" cy="351.6" r="2.55" fill="#ffffff" stroke="#111" stroke-width="0.85"/>
<circle cx="499.5" cy="360.4" r="2.55" fill="#ffffff" stroke="#111" stroke-width="0.85"/>
<circle cx="502.1" cy="360.4" r="2.55" fill="#ffffff" stroke="#111" stroke-width="0.85"/>
<circle cx="531.3" cy="308.1" r="2.55" fill="#18a9e2" stroke="#111" stroke-width="0.85"/>
<circle cx="529.6" cy="313.3" r="2.55" fill="#18a9e2" stroke="#111" stroke-width="0.85"/>
<circle cx="533.4" cy="313.3" r="2.55" fill="#18a9e2" stroke="#111" stroke-width="0.85"/>
<circle cx="530.4" cy="317.6" r="2.55" fill="#18a9e2" stroke="#111" stroke-width="0.85"/>
<circle cx="533.0" cy="317.6" r="2.55" fill="#18a9e2" stroke="#111" stroke-width="0.85"/>
<circle cx="528.3" cy="321.4" r="2.55" fill="#18a9e2" stroke="#111" stroke-width="0.85"/>
<circle cx="534.3" cy="321.4" r="2.55" fill="#18a9e2" stroke="#111" stroke-width="0.85"/>
<circle cx="531.3" cy="325.7" r="2.55" fill="#18a9e2" stroke="#111" stroke-width="0.85"/>
<circle cx="527.4" cy="330.0" r="2.55" fill="#18a9e2" stroke="#111" stroke-width="0.85"/>
<circle cx="533.4" cy="330.0" r="2.55" fill="#18a9e2" stroke="#111" stroke-width="0.85"/>
<circle cx="535.6" cy="330.4" r="2.55" fill="#18a9e2" stroke="#111" stroke-width="0.85"/>
<circle cx="531.3" cy="334.7" r="2.55" fill="#18a9e2" stroke="#111" stroke-width="0.85"/>
<circle cx="528.7" cy="338.2" r="2.55" fill="#18a9e2" stroke="#111" stroke-width="0.85"/>
<circle cx="533.4" cy="338.2" r="2.55" fill="#18a9e2" stroke="#111" stroke-width="0.85"/>
<circle cx="539.0" cy="337.7" r="2.55" fill="#18a9e2" stroke="#111" stroke-width="0.85"/>
<circle cx="523.6" cy="342.6" r="2.55" fill="#18a9e2" stroke="#111" stroke-width="0.85"/>
<circle cx="529.0" cy="342.6" r="2.55" fill="#18a9e2" stroke="#111" stroke-width="0.85"/>
<circle cx="533.0" cy="342.6" r="2.55" fill="#18a9e2" stroke="#111" stroke-width="0.85"/>
<circle cx="536.9" cy="342.6" r="2.55" fill="#18a9e2" stroke="#111" stroke-width="0.85"/>
<circle cx="527.0" cy="347.2" r="2.55" fill="#18a9e2" stroke="#111" stroke-width="0.85"/>
<circle cx="531.0" cy="347.2" r="2.55" fill="#18a9e2" stroke="#111" stroke-width="0.85"/>
<circle cx="535.0" cy="347.2" r="2.55" fill="#18a9e2" stroke="#111" stroke-width="0.85"/>
<circle cx="529.7" cy="351.8" r="2.55" fill="#18a9e2" stroke="#111" stroke-width="0.85"/>
<circle cx="533.0" cy="351.8" r="2.55" fill="#18a9e2" stroke="#111" stroke-width="0.85"/>
<circle cx="529.0" cy="356.0" r="2.55" fill="#18a9e2" stroke="#111" stroke-width="0.85"/>
<circle cx="533.0" cy="356.0" r="2.55" fill="#18a9e2" stroke="#111" stroke-width="0.85"/>
<circle cx="531.0" cy="372.9" r="2.55" fill="#18a9e2" stroke="#111" stroke-width="0.85"/>
<circle cx="561.5" cy="313.2" r="2.55" fill="#3a4faa" stroke="#111" stroke-width="0.85"/>
<circle cx="557.7" cy="317.0" r="2.55" fill="#3a4faa" stroke="#111" stroke-width="0.85"/>
<circle cx="565.2" cy="317.0" r="2.55" fill="#3a4faa" stroke="#111" stroke-width="0.85"/>
<circle cx="569.4" cy="317.4" r="2.55" fill="#3a4faa" stroke="#111" stroke-width="0.85"/>
<circle cx="553.6" cy="321.1" r="2.55" fill="#3a4faa" stroke="#111" stroke-width="0.85"/>
<circle cx="556.0" cy="322.5" r="2.55" fill="#3a4faa" stroke="#111" stroke-width="0.85"/>
<circle cx="561.5" cy="321.5" r="2.55" fill="#3a4faa" stroke="#111" stroke-width="0.85"/>
<circle cx="567.0" cy="322.5" r="2.55" fill="#3a4faa" stroke="#111" stroke-width="0.85"/>
<circle cx="559.4" cy="326.6" r="2.55" fill="#3a4faa" stroke="#111" stroke-width="0.85"/>
<circle cx="563.2" cy="325.6" r="2.55" fill="#3a4faa" stroke="#111" stroke-width="0.85"/>
<circle cx="559.4" cy="330.0" r="2.55" fill="#3a4faa" stroke="#111" stroke-width="0.85"/>
<circle cx="563.5" cy="329.7" r="2.55" fill="#3a4faa" stroke="#111" stroke-width="0.85"/>
<circle cx="555.3" cy="334.5" r="2.55" fill="#3a4faa" stroke="#111" stroke-width="0.85"/>
<circle cx="559.4" cy="333.8" r="2.55" fill="#3a4faa" stroke="#111" stroke-width="0.85"/>
<circle cx="563.2" cy="334.9" r="2.55" fill="#3a4faa" stroke="#111" stroke-width="0.85"/>
<circle cx="567.3" cy="334.5" r="2.55" fill="#3a4faa" stroke="#111" stroke-width="0.85"/>
<circle cx="556.0" cy="342.6" r="2.55" fill="#3a4faa" stroke="#111" stroke-width="0.85"/>
<circle cx="559.9" cy="342.6" r="2.55" fill="#3a4faa" stroke="#111" stroke-width="0.85"/>
<circle cx="563.8" cy="342.6" r="2.55" fill="#3a4faa" stroke="#111" stroke-width="0.85"/>
<circle cx="567.8" cy="342.6" r="2.55" fill="#3a4faa" stroke="#111" stroke-width="0.85"/>
<circle cx="553.3" cy="347.2" r="2.55" fill="#3a4faa" stroke="#111" stroke-width="0.85"/>
<circle cx="557.3" cy="347.2" r="2.55" fill="#3a4faa" stroke="#111" stroke-width="0.85"/>
<circle cx="561.2" cy="347.2" r="2.55" fill="#3a4faa" stroke="#111" stroke-width="0.85"/>
<circle cx="565.2" cy="347.2" r="2.55" fill="#3a4faa" stroke="#111" stroke-width="0.85"/>
<circle cx="569.1" cy="347.2" r="2.55" fill="#3a4faa" stroke="#111" stroke-width="0.85"/>
<circle cx="561.6" cy="355.8" r="2.55" fill="#3a4faa" stroke="#111" stroke-width="0.85"/>
<circle cx="561.6" cy="370.9" r="2.55" fill="#3a4faa" stroke="#111" stroke-width="0.85"/>
<line x1="488.50" y1="330.50" x2="513.20" y2="330.50" stroke="#111" stroke-width="1.60"/>
<line x1="518.90" y1="339.00" x2="543.70" y2="339.00" stroke="#111" stroke-width="1.60"/>
<line x1="549.10" y1="334.50" x2="573.80" y2="334.50" stroke="#111" stroke-width="1.60"/>
<circle cx="418.4" cy="458.0" r="2.80" fill="#ffffff" stroke="#111" stroke-width="0.85"/>
<circle cx="415.0" cy="459.7" r="2.80" fill="#ffffff" stroke="#111" stroke-width="0.85"/>
<circle cx="412.0" cy="473.4" r="2.80" fill="#ffffff" stroke="#111" stroke-width="0.85"/>
<circle cx="415.4" cy="476.4" r="2.80" fill="#ffffff" stroke="#111" stroke-width="0.85"/>
<circle cx="418.4" cy="477.7" r="2.80" fill="#ffffff" stroke="#111" stroke-width="0.85"/>
<circle cx="415.3" cy="483.3" r="2.80" fill="#ffffff" stroke="#111" stroke-width="0.85"/>
<circle cx="421.4" cy="485.0" r="2.80" fill="#ffffff" stroke="#111" stroke-width="0.85"/>
<circle cx="409.0" cy="489.7" r="2.80" fill="#ffffff" stroke="#111" stroke-width="0.85"/>
<circle cx="415.4" cy="490.2" r="2.80" fill="#ffffff" stroke="#111" stroke-width="0.85"/>
<circle cx="421.4" cy="491.4" r="2.80" fill="#ffffff" stroke="#111" stroke-width="0.85"/>
<circle cx="412.4" cy="493.2" r="2.80" fill="#ffffff" stroke="#111" stroke-width="0.85"/>
<circle cx="418.0" cy="494.5" r="2.80" fill="#ffffff" stroke="#111" stroke-width="0.85"/>
<circle cx="424.4" cy="494.9" r="2.80" fill="#ffffff" stroke="#111" stroke-width="0.85"/>
<circle cx="416.7" cy="500.0" r="2.80" fill="#ffffff" stroke="#111" stroke-width="0.85"/>
<circle cx="445.6" cy="529.0" r="2.80" fill="#18a9e2" stroke="#111" stroke-width="0.85"/>
<circle cx="449.0" cy="530.6" r="2.80" fill="#18a9e2" stroke="#111" stroke-width="0.85"/>
<circle cx="439.5" cy="536.8" r="2.80" fill="#18a9e2" stroke="#111" stroke-width="0.85"/>
<circle cx="442.3" cy="535.6" r="2.80" fill="#18a9e2" stroke="#111" stroke-width="0.85"/>
<circle cx="445.6" cy="537.3" r="2.80" fill="#18a9e2" stroke="#111" stroke-width="0.85"/>
<circle cx="455.1" cy="536.2" r="2.80" fill="#18a9e2" stroke="#111" stroke-width="0.85"/>
<circle cx="442.3" cy="541.2" r="2.80" fill="#18a9e2" stroke="#111" stroke-width="0.85"/>
<circle cx="448.4" cy="539.5" r="2.80" fill="#18a9e2" stroke="#111" stroke-width="0.85"/>
<circle cx="452.3" cy="540.7" r="2.80" fill="#18a9e2" stroke="#111" stroke-width="0.85"/>
<circle cx="445.6" cy="544.6" r="2.80" fill="#18a9e2" stroke="#111" stroke-width="0.85"/>
<circle cx="449.5" cy="545.1" r="2.80" fill="#18a9e2" stroke="#111" stroke-width="0.85"/>
<circle cx="442.3" cy="548.5" r="2.80" fill="#18a9e2" stroke="#111" stroke-width="0.85"/>
<circle cx="451.7" cy="548.5" r="2.80" fill="#18a9e2" stroke="#111" stroke-width="0.85"/>
<circle cx="449.0" cy="552.9" r="2.80" fill="#18a9e2" stroke="#111" stroke-width="0.85"/>
<circle cx="445.6" cy="556.3" r="2.80" fill="#18a9e2" stroke="#111" stroke-width="0.85"/>
<circle cx="477.4" cy="543.4" r="2.80" fill="#3a4faa" stroke="#111" stroke-width="0.85"/>
<circle cx="477.4" cy="547.9" r="2.80" fill="#3a4faa" stroke="#111" stroke-width="0.85"/>
<circle cx="471.8" cy="554.6" r="2.80" fill="#3a4faa" stroke="#111" stroke-width="0.85"/>
<circle cx="474.0" cy="556.3" r="2.80" fill="#3a4faa" stroke="#111" stroke-width="0.85"/>
<circle cx="481.3" cy="552.9" r="2.80" fill="#3a4faa" stroke="#111" stroke-width="0.85"/>
<circle cx="484.6" cy="555.2" r="2.80" fill="#3a4faa" stroke="#111" stroke-width="0.85"/>
<circle cx="481.3" cy="557.4" r="2.80" fill="#3a4faa" stroke="#111" stroke-width="0.85"/>
<circle cx="470.1" cy="561.3" r="2.80" fill="#3a4faa" stroke="#111" stroke-width="0.85"/>
<circle cx="474.0" cy="561.8" r="2.80" fill="#3a4faa" stroke="#111" stroke-width="0.85"/>
<circle cx="477.9" cy="560.7" r="2.80" fill="#3a4faa" stroke="#111" stroke-width="0.85"/>
<circle cx="481.8" cy="562.4" r="2.80" fill="#3a4faa" stroke="#111" stroke-width="0.85"/>
<circle cx="485.2" cy="562.4" r="2.80" fill="#3a4faa" stroke="#111" stroke-width="0.85"/>
<circle cx="472.4" cy="565.2" r="2.80" fill="#3a4faa" stroke="#111" stroke-width="0.85"/>
<circle cx="476.8" cy="564.6" r="2.80" fill="#3a4faa" stroke="#111" stroke-width="0.85"/>
<circle cx="480.7" cy="566.3" r="2.80" fill="#3a4faa" stroke="#111" stroke-width="0.85"/>
<circle cx="474.6" cy="570.8" r="2.80" fill="#3a4faa" stroke="#111" stroke-width="0.85"/>
<line x1="406.90" y1="487.80" x2="427.00" y2="487.80" stroke="#111" stroke-width="1.60"/>
<line x1="437.20" y1="539.50" x2="456.80" y2="539.50" stroke="#111" stroke-width="1.60"/>
<line x1="467.30" y1="560.20" x2="488.00" y2="560.20" stroke="#111" stroke-width="1.60"/>
<path d="M416.4,449.7 V446.3 H445.4 V523.3" fill="none" stroke="#222" stroke-width="1.20"/>
<path d="M429.10,440.90 L433.90,440.90 M430.30,438.82 L432.70,442.98 M432.70,438.82 L430.30,442.98" stroke="#222" stroke-width="0.85" stroke-linecap="round"/>
<path d="M449.2,523.3 V512.4 H477.5 V537.8" fill="none" stroke="#222" stroke-width="1.20"/>
<path d="M462.00,508.20 L466.80,508.20 M463.20,506.12 L465.60,510.28 M465.60,506.12 L463.20,510.28" stroke="#222" stroke-width="0.85" stroke-linecap="round"/>
<circle cx="584.5" cy="473.6" r="2.70" fill="#ffffff" stroke="#111" stroke-width="0.85"/>
<circle cx="584.5" cy="479.0" r="2.70" fill="#ffffff" stroke="#111" stroke-width="0.85"/>
<circle cx="584.5" cy="490.2" r="2.70" fill="#ffffff" stroke="#111" stroke-width="0.85"/>
<circle cx="584.5" cy="497.6" r="2.70" fill="#ffffff" stroke="#111" stroke-width="0.85"/>
<circle cx="580.6" cy="501.8" r="2.70" fill="#ffffff" stroke="#111" stroke-width="0.85"/>
<circle cx="577.0" cy="504.8" r="2.70" fill="#ffffff" stroke="#111" stroke-width="0.85"/>
<circle cx="584.8" cy="505.5" r="2.70" fill="#ffffff" stroke="#111" stroke-width="0.85"/>
<circle cx="577.0" cy="510.3" r="2.70" fill="#ffffff" stroke="#111" stroke-width="0.85"/>
<circle cx="580.6" cy="508.5" r="2.70" fill="#ffffff" stroke="#111" stroke-width="0.85"/>
<circle cx="588.4" cy="509.7" r="2.70" fill="#ffffff" stroke="#111" stroke-width="0.85"/>
<circle cx="592.6" cy="510.3" r="2.70" fill="#ffffff" stroke="#111" stroke-width="0.85"/>
<circle cx="584.2" cy="513.9" r="2.70" fill="#ffffff" stroke="#111" stroke-width="0.85"/>
<circle cx="582.4" cy="522.9" r="2.70" fill="#ffffff" stroke="#111" stroke-width="0.85"/>
<circle cx="586.6" cy="522.9" r="2.70" fill="#ffffff" stroke="#111" stroke-width="0.85"/>
<circle cx="615.6" cy="542.3" r="2.70" fill="#18a9e2" stroke="#111" stroke-width="0.85"/>
<circle cx="614.0" cy="543.8" r="2.70" fill="#18a9e2" stroke="#111" stroke-width="0.85"/>
<circle cx="616.2" cy="547.9" r="2.70" fill="#18a9e2" stroke="#111" stroke-width="0.85"/>
<circle cx="606.7" cy="550.7" r="2.70" fill="#18a9e2" stroke="#111" stroke-width="0.85"/>
<circle cx="609.3" cy="549.6" r="2.70" fill="#18a9e2" stroke="#111" stroke-width="0.85"/>
<circle cx="620.6" cy="552.3" r="2.70" fill="#18a9e2" stroke="#111" stroke-width="0.85"/>
<circle cx="607.3" cy="556.2" r="2.70" fill="#18a9e2" stroke="#111" stroke-width="0.85"/>
<circle cx="611.7" cy="555.1" r="2.70" fill="#18a9e2" stroke="#111" stroke-width="0.85"/>
<circle cx="616.2" cy="555.7" r="2.70" fill="#18a9e2" stroke="#111" stroke-width="0.85"/>
<circle cx="624.0" cy="556.2" r="2.70" fill="#18a9e2" stroke="#111" stroke-width="0.85"/>
<circle cx="615.6" cy="559.0" r="2.70" fill="#18a9e2" stroke="#111" stroke-width="0.85"/>
<circle cx="620.4" cy="557.9" r="2.70" fill="#18a9e2" stroke="#111" stroke-width="0.85"/>
<circle cx="645.2" cy="558.5" r="2.70" fill="#3a4faa" stroke="#111" stroke-width="0.85"/>
<circle cx="646.8" cy="561.8" r="2.70" fill="#3a4faa" stroke="#111" stroke-width="0.85"/>
<circle cx="653.0" cy="562.7" r="2.70" fill="#3a4faa" stroke="#111" stroke-width="0.85"/>
<circle cx="639.0" cy="565.7" r="2.70" fill="#3a4faa" stroke="#111" stroke-width="0.85"/>
<circle cx="643.0" cy="564.1" r="2.70" fill="#3a4faa" stroke="#111" stroke-width="0.85"/>
<circle cx="650.2" cy="565.7" r="2.70" fill="#3a4faa" stroke="#111" stroke-width="0.85"/>
<circle cx="637.9" cy="569.6" r="2.70" fill="#3a4faa" stroke="#111" stroke-width="0.85"/>
<circle cx="641.8" cy="570.2" r="2.70" fill="#3a4faa" stroke="#111" stroke-width="0.85"/>
<circle cx="646.3" cy="569.1" r="2.70" fill="#3a4faa" stroke="#111" stroke-width="0.85"/>
<circle cx="651.3" cy="569.6" r="2.70" fill="#3a4faa" stroke="#111" stroke-width="0.85"/>
<circle cx="640.7" cy="571.9" r="2.70" fill="#3a4faa" stroke="#111" stroke-width="0.85"/>
<circle cx="646.3" cy="573.0" r="2.70" fill="#3a4faa" stroke="#111" stroke-width="0.85"/>
<circle cx="649.6" cy="572.4" r="2.70" fill="#3a4faa" stroke="#111" stroke-width="0.85"/>
<line x1="572.20" y1="506.90" x2="597.20" y2="506.90" stroke="#111" stroke-width="1.60"/>
<line x1="602.20" y1="554.80" x2="627.90" y2="554.80" stroke="#111" stroke-width="1.60"/>
<line x1="633.50" y1="566.50" x2="658.00" y2="566.50" stroke="#111" stroke-width="1.60"/>
<path d="M584.3,467.0 V463.4 H614.3 V535.1" fill="none" stroke="#222" stroke-width="1.20"/>
<path d="M595.80,458.90 L600.60,458.90 M597.00,456.82 L599.40,460.98 M599.40,456.82 L597.00,460.98" stroke="#222" stroke-width="0.85" stroke-linecap="round"/>
<path d="M617.9,535.1 V523.9 H646.5 V549.6" fill="none" stroke="#222" stroke-width="1.20"/>
<path d="M630.30,519.50 L635.10,519.50 M631.50,517.42 L633.90,521.58 M633.90,517.42 L631.50,521.58" stroke="#222" stroke-width="0.85" stroke-linecap="round"/>
</svg>
</body></html>
